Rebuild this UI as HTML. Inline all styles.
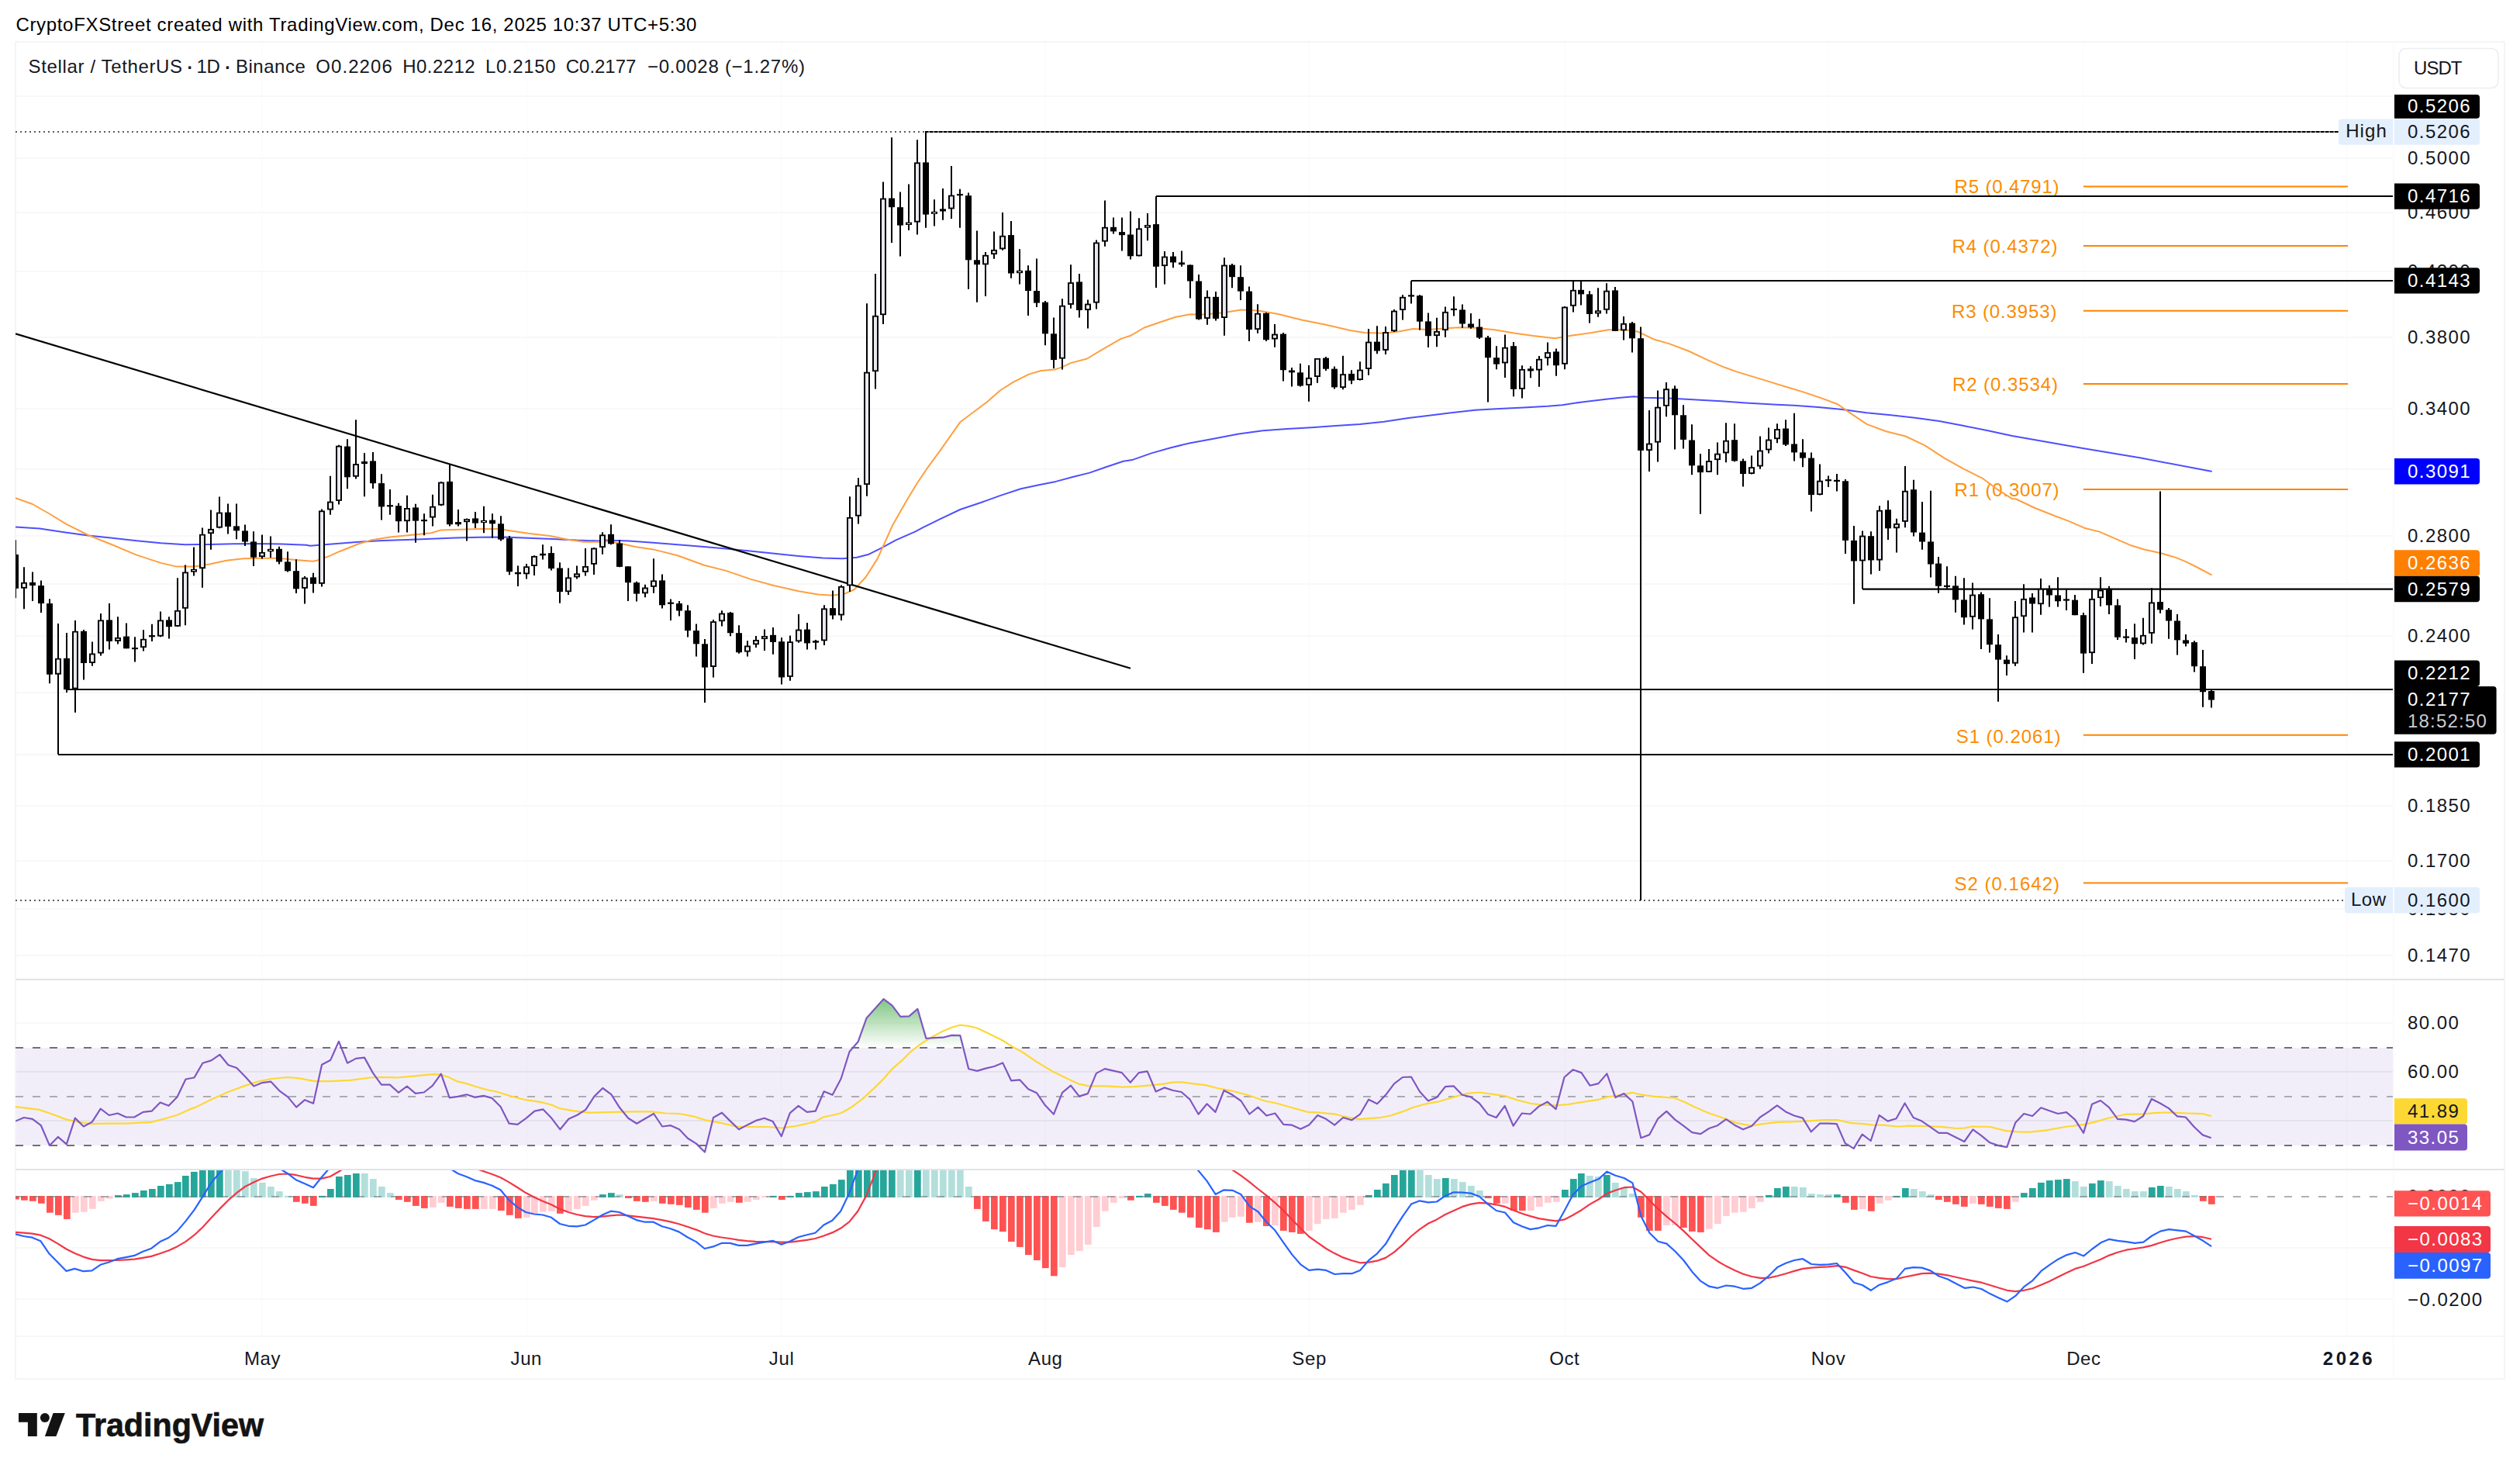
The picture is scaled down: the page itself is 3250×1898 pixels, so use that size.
<!DOCTYPE html>
<html><head><meta charset="utf-8"><title>XLMUSDT chart</title>
<style>html,body{margin:0;padding:0;background:#fff}svg{display:block}</style></head>
<body>
<svg width="3250" height="1898" viewBox="0 0 3250 1898" font-family='"Liberation Sans", sans-serif'>
<defs>
<clipPath id="cm"><rect x="20" y="54" width="3066" height="1209"/></clipPath>
<clipPath id="cr"><rect x="20" y="1264" width="3066" height="244"/></clipPath>
<clipPath id="cd"><rect x="20" y="1509" width="3066" height="214"/></clipPath>
<linearGradient id="gg" x1="0" y1="1263" x2="0" y2="1351" gradientUnits="userSpaceOnUse"><stop offset="0" stop-color="#4caf50" stop-opacity="1"/><stop offset="0.28" stop-color="#4caf50" stop-opacity="0.72"/><stop offset="1" stop-color="#4caf50" stop-opacity="0"/></linearGradient>
</defs>
<rect width="3250" height="1898" fill="#fff"/>
<g stroke="#f8f8f8" stroke-width="2" shape-rendering="crispEdges">
<line x1="338" y1="54" x2="338" y2="1723" stroke="#fcfcfc"/>
<line x1="679" y1="54" x2="679" y2="1723" stroke="#fcfcfc"/>
<line x1="1008" y1="54" x2="1008" y2="1723" stroke="#fcfcfc"/>
<line x1="1348" y1="54" x2="1348" y2="1723" stroke="#fcfcfc"/>
<line x1="1688" y1="54" x2="1688" y2="1723" stroke="#fcfcfc"/>
<line x1="2018" y1="54" x2="2018" y2="1723" stroke="#fcfcfc"/>
<line x1="2358" y1="54" x2="2358" y2="1723" stroke="#fcfcfc"/>
<line x1="2687" y1="54" x2="2687" y2="1723" stroke="#fcfcfc"/>
<line x1="3027" y1="54" x2="3027" y2="1723" stroke="#fcfcfc"/>
<line x1="20" y1="124.2" x2="3086" y2="124.2"/>
<line x1="20" y1="204.2" x2="3086" y2="204.2"/>
<line x1="20" y1="274.0" x2="3086" y2="274.0"/>
<line x1="20" y1="350.1" x2="3086" y2="350.1"/>
<line x1="20" y1="434.5" x2="3086" y2="434.5"/>
<line x1="20" y1="527.4" x2="3086" y2="527.4"/>
<line x1="20" y1="605.0" x2="3086" y2="605.0"/>
<line x1="20" y1="690.6" x2="3086" y2="690.6"/>
<line x1="20" y1="752.8" x2="3086" y2="752.8"/>
<line x1="20" y1="820.2" x2="3086" y2="820.2"/>
<line x1="20" y1="892.7" x2="3086" y2="892.7"/>
<line x1="20" y1="973.3" x2="3086" y2="973.3"/>
<line x1="20" y1="1039.0" x2="3086" y2="1039.0"/>
<line x1="20" y1="1110.1" x2="3086" y2="1110.1"/>
<line x1="20" y1="1171.5" x2="3086" y2="1171.5"/>
<line x1="20" y1="1231.6" x2="3086" y2="1231.6"/>
<line x1="20" y1="1319.2" x2="3086" y2="1319.2"/>
<line x1="20" y1="1381.7" x2="3086" y2="1381.7"/>
<line x1="20" y1="1445.0" x2="3086" y2="1445.0"/>
<line x1="20" y1="1609.0" x2="3086" y2="1609.0"/>
<line x1="20" y1="1675.4" x2="3086" y2="1675.4"/>
</g>
<rect x="20" y="1351" width="3066" height="126" fill="#7e57c2" fill-opacity="0.1"/>
<g stroke="#000" stroke-opacity="0.022" stroke-width="2"><line x1="20" y1="1381.7" x2="3086" y2="1381.7"/><line x1="20" y1="1445" x2="3086" y2="1445"/></g>
<g stroke="#f5f5f5" stroke-width="2" fill="none">
<rect x="20" y="54" width="3210" height="1724"/>
<line x1="3087" y1="54" x2="3087" y2="1778" stroke="#fbfbfb"/>
<line x1="20" y1="1723" x2="3230" y2="1723" stroke="#f7f7f7"/>
</g>
<g stroke="#e0e3eb" stroke-width="2"><line x1="20" y1="1263" x2="3230" y2="1263"/><line x1="20" y1="1508" x2="3230" y2="1508"/></g>
<g clip-path="url(#cm)">
<line x1="20" y1="170" x2="3016" y2="170" stroke="#5c5c5e" stroke-width="2" stroke-dasharray="2 4"/>
<line x1="1193" y1="170" x2="3016" y2="170" stroke="#8a8a8a" stroke-width="2"/>
<line x1="1193" y1="170" x2="3016" y2="170" stroke="#000" stroke-width="2" stroke-dasharray="4.4 1.6"/>
<line x1="20" y1="1161" x2="3024" y2="1161" stroke="#5c5c5e" stroke-width="2" stroke-dasharray="2 4"/>
<line x1="2687" y1="240.5" x2="3028" y2="240.5" stroke="#ff8400" stroke-width="2"/>
<line x1="2687" y1="317" x2="3028" y2="317" stroke="#ff8400" stroke-width="2"/>
<line x1="2687" y1="400.7" x2="3028" y2="400.7" stroke="#ff8400" stroke-width="2"/>
<line x1="2687" y1="495" x2="3028" y2="495" stroke="#ff8400" stroke-width="2"/>
<line x1="2687" y1="631" x2="3028" y2="631" stroke="#ff8400" stroke-width="2"/>
<line x1="2687" y1="947.7" x2="3028" y2="947.7" stroke="#ff8400" stroke-width="2"/>
<line x1="2687" y1="1138.5" x2="3028" y2="1138.5" stroke="#ff8400" stroke-width="2"/>
<text x="2520.6" y="248.6" font-size="24" fill="#fb8c00" textLength="135.0" lengthAdjust="spacing">R5 (0.4791)</text>
<text x="2517.5" y="325.8" font-size="24" fill="#fb8c00" textLength="135.9" lengthAdjust="spacing">R4 (0.4372)</text>
<text x="2517.0" y="409.6" font-size="24" fill="#fb8c00" textLength="135.5" lengthAdjust="spacing">R3 (0.3953)</text>
<text x="2518.0" y="503.9" font-size="24" fill="#fb8c00" textLength="136.0" lengthAdjust="spacing">R2 (0.3534)</text>
<text x="2520.6" y="639.9" font-size="24" fill="#fb8c00" textLength="135.0" lengthAdjust="spacing">R1 (0.3007)</text>
<text x="2522.8" y="958.3" font-size="24" fill="#fb8c00" textLength="134.7" lengthAdjust="spacing">S1 (0.2061)</text>
<text x="2520.6" y="1148.4" font-size="24" fill="#fb8c00" textLength="135.4" lengthAdjust="spacing">S2 (0.1642)</text>
<polyline points="20.0,679.4 51.2,681.6 82.5,686.2 113.8,690.6 145.0,693.8 176.2,697.2 207.5,700.3 238.8,702.2 270.0,701.9 301.2,701.2 332.5,700.9 363.8,701.6 395.0,702.8 400.0,703.8 431.2,701.2 462.5,698.8 493.8,696.9 525.0,695.9 556.2,694.7 587.5,693.4 618.8,692.8 650.0,692.5 681.2,693.8 712.5,695.0 743.8,696.6 775.0,697.5 780.0,696.6 811.2,697.5 842.5,699.7 873.8,702.2 905.0,704.7 936.2,707.5 967.5,710.6 998.8,713.8 1030.0,716.9 1061.2,719.4 1086.2,720.3 1105.0,718.8 1120.6,714.7 1136.2,706.9 1155.0,696.6 1180.0,685.6 1190.4,680.2 1212.2,669.3 1238.3,657.0 1264.3,648.3 1290.4,638.9 1316.5,630.2 1340.0,625.2 1361.7,620.9 1383.5,615.0 1405.2,609.6 1427.0,602.0 1448.7,594.8 1460.0,593.1 1485.0,584.4 1510.0,577.2 1535.0,571.2 1566.2,565.6 1597.5,559.4 1628.8,555.3 1660.0,553.1 1691.2,551.2 1722.5,549.1 1753.8,546.9 1785.0,543.8 1816.2,539.1 1841.2,535.9 1871.2,532.2 1902.5,528.8 1933.8,526.9 1965.0,525.6 1996.2,523.8 2015.0,522.2 2040.0,518.4 2071.2,514.7 2090.0,512.8 2107.2,511.2 2121.2,512.8 2152.5,513.4 2183.8,515.3 2215.0,516.9 2220.0,517.2 2251.2,519.4 2282.5,521.2 2313.8,522.8 2345.0,525.0 2376.2,528.1 2407.5,532.2 2438.8,535.3 2470.0,538.8 2501.2,543.1 2532.5,549.1 2563.8,555.3 2595.0,561.9 2686.2,578.1 2761.2,590.6 2851.9,607.8" fill="none" stroke="#4f4ffc" stroke-width="2.0" stroke-opacity="1" stroke-linejoin="round" stroke-linecap="round"/>
<polyline points="20.0,642.2 41.9,650.0 63.8,662.5 85.6,675.9 113.8,690.0 145.0,702.5 176.2,715.6 207.5,725.9 227.8,730.6 249.7,730.6 270.0,727.5 291.9,722.8 313.8,720.3 337.5,719.7 359.4,719.7 381.6,721.9 403.4,723.8 409.4,722.5 425.0,716.9 437.5,711.2 462.5,701.2 478.1,696.6 503.1,692.5 531.2,689.7 556.2,687.2 568.8,683.4 593.8,682.8 618.8,681.9 643.8,681.9 656.2,684.1 681.2,687.8 709.4,690.9 731.2,695.6 753.1,698.8 775.0,698.8 780.0,697.5 798.8,700.6 820.6,705.3 842.5,708.4 873.8,716.2 908.1,728.8 936.2,735.9 967.5,746.6 998.8,755.3 1030.0,762.2 1055.0,766.6 1073.8,767.8 1089.4,765.6 1101.9,760.0 1116.5,744.3 1131.7,720.4 1151.3,677.0 1168.7,646.5 1181.7,624.8 1194.8,605.2 1212.2,581.3 1238.3,544.3 1255.7,531.3 1273.0,518.3 1290.4,503.0 1307.8,492.2 1327.4,482.4 1342.6,478.0 1359.7,476.6 1369.7,473.4 1380.9,468.1 1401.9,462.5 1423.8,449.4 1445.6,436.9 1458.1,432.8 1475.6,422.5 1497.5,415.0 1516.2,408.8 1535.0,405.3 1553.8,405.6 1578.8,403.1 1600.6,399.4 1622.5,400.6 1647.5,404.7 1678.8,412.5 1710.0,418.8 1741.2,425.9 1760.0,429.1 1785.0,429.7 1803.8,427.5 1822.5,424.1 1841.2,425.0 1858.8,423.8 1880.6,422.2 1902.5,422.8 1927.5,425.3 1952.5,429.4 1977.5,433.1 2005.6,436.2 2027.5,432.5 2052.5,429.1 2074.4,425.3 2096.2,425.3 2111.9,427.5 2133.8,437.8 2152.5,443.1 2177.5,452.5 2202.5,464.4 2224.4,473.8 2240.0,479.4 2307.5,500.0 2326.2,505.6 2351.2,514.1 2370.0,521.2 2388.8,534.4 2407.5,546.9 2432.5,556.2 2457.5,562.5 2482.5,574.4 2507.5,590.6 2532.5,604.7 2557.5,617.2 2576.2,631.2 2595.0,643.1 2600.0,643.5 2624.4,655.0 2648.9,664.8 2668.5,672.1 2688.0,680.7 2707.6,685.6 2727.1,694.1 2746.7,702.7 2766.3,708.8 2785.8,713.0 2805.4,718.6 2820.0,724.7 2834.7,732.0 2851.8,741.1" fill="none" stroke="#ff9f40" stroke-width="2.0" stroke-opacity="1" stroke-linejoin="round" stroke-linecap="round"/>
<g stroke="#000" stroke-width="2.2" fill="none">
<line x1="20" y1="430.4" x2="1458" y2="861.8"/>
<line x1="1491" y1="253" x2="3086" y2="253"/>
<line x1="1820" y1="362" x2="3086" y2="362"/>
<line x1="2402" y1="759.7" x2="3086" y2="759.7"/>
<line x1="86" y1="889" x2="3086" y2="889"/>
<line x1="75" y1="973" x2="3086" y2="973"/>
</g>
<path d="M20 696.2V771.2M31 731.2V785.3M42 737.5V775.0M53 748.4V790.0M64 772.2V881.2M75 804.1V972.8M86 815.9V893.1M97 800.0V918.8M108 811.9V876.6M119 827.5V858.8M130 790.9V845.6M141 778.1V837.5M152 795.3V830.6M163 803.4V836.2M174 821.2V853.4M185 812.2V839.4M196 804.7V826.9M207 788.4V821.2M218 795.3V823.4M229 745.3V808.1M239 728.4V806.2M250 705.6V742.5M261 680.6V757.8M272 657.5V708.8M283 640.6V681.2M294 649.4V688.4M305 649.4V695.3M316 676.6V704.1M327 685.3V730.0M338 689.4V720.6M349 691.6V719.1M360 704.7V727.5M371 711.2V737.5M382 721.2V765.0M393 743.1V778.4M404 738.8V764.4M415 656.6V756.6M426 613.8V663.8M437 573.8V650.6M448 566.2V630.3M459 541.2V617.5M470 584.1V640.3M481 583.1V630.0M492 611.2V670.6M503 630.9V663.8M514 648.8V686.6M525 638.8V686.6M536 649.7V699.7M547 662.2V690.3M558 637.8V678.4M569 620.9V652.2M580 599.1V678.4M591 656.9V678.4M602 668.4V697.5M613 660.0V680.9M624 652.8V687.2M635 662.2V693.4M646 665.3V697.5M657 690.9V741.2M668 729.4V755.9M679 726.9V746.6M689 716.2V741.9M700 702.2V721.6M711 704.4V735.6M722 725.3V777.8M733 732.5V766.9M744 729.4V746.6M755 706.9V742.5M766 705.9V740.9M777 686.2V714.7M788 676.2V702.2M799 695.9V731.2M810 730.3V775.0M821 749.7V775.6M832 753.8V770.3M843 720.3V764.7M854 740.6V784.4M865 772.5V800.0M876 775.0V794.4M887 780.3V821.6M898 804.4V846.6M909 824.1V905.9M920 799.1V873.4M931 787.2V807.5M942 789.1V820.3M953 806.2V842.8M964 826.2V846.6M975 820.0V835.0M986 811.6V839.1M997 809.1V843.8M1008 821.9V882.5M1019 819.4V877.8M1030 791.9V828.8M1041 803.1V837.5M1052 825.0V837.5M1063 780.3V831.9M1074 761.6V798.4M1085 754.4V800.0M1096 640.3V763.1M1107 616.2V675.6M1118 391.3V639.7M1129 353.1V501.6M1139 234.4V418.1M1150 177.2V313.1M1161 247.5V330.6M1172 237.5V296.9M1183 180.3V302.5M1194 170.3V293.8M1205 257.2V291.6M1216 243.1V283.8M1227 214.1V281.9M1238 243.8V293.8M1249 248.4V372.8M1260 297.5V389.7M1271 325.0V381.9M1282 298.4V333.8M1293 274.1V322.8M1304 285.0V358.8M1315 321.2V366.6M1326 342.2V406.9M1337 333.4V395.9M1348 388.1V445.3M1359 409.4V475.0M1370 385.3V476.6M1381 341.2V397.8M1392 353.1V409.4M1403 386.6V423.4M1414 309.4V398.4M1425 258.4V317.8M1436 280.6V301.6M1447 280.6V323.4M1458 272.5V334.4M1469 281.2V330.6M1480 275.0V310.3M1491 253.1V370.9M1502 324.1V366.6M1513 325.0V345.3M1524 323.4V343.8M1535 341.2V384.4M1546 354.1V412.5M1557 374.4V418.8M1568 375.9V413.4M1579 332.2V432.8M1589 340.0V371.2M1600 342.2V386.9M1611 369.4V440.0M1622 392.2V429.7M1633 403.1V440.0M1644 418.1V447.8M1655 429.1V491.6M1666 474.1V498.4M1677 468.8V498.4M1688 470.9V517.8M1699 461.9V493.8M1710 460.0V478.1M1721 472.5V501.6M1732 458.8V502.2M1743 477.2V495.3M1754 466.2V490.6M1765 424.1V483.8M1776 420.3V456.2M1787 420.9V456.9M1798 399.1V428.1M1809 380.3V412.5M1820 361.9V391.6M1831 380.3V425.6M1842 403.4V448.1M1853 409.7V447.2M1864 395.6V434.7M1875 382.2V407.5M1886 392.5V422.8M1897 404.1V423.8M1908 411.2V436.9M1919 433.1V518.4M1930 446.2V476.2M1941 431.6V486.9M1952 440.9V511.2M1963 471.2V513.4M1974 472.2V487.2M1985 459.1V498.8M1996 441.6V471.2M2007 449.4V484.7M2018 395.0V476.2M2029 362.2V402.5M2039 362.2V393.4M2050 375.3V416.6M2061 371.2V408.8M2072 365.3V404.4M2083 370.0V426.9M2094 408.1V438.4M2105 415.0V454.4M2116 421.6V1161.0M2127 529.1V608.1M2138 503.4V595.6M2149 493.1V537.2M2160 497.2V579.4M2171 522.2V578.4M2182 547.2V612.2M2193 585.3V662.8M2204 579.1V609.1M2215 570.6V612.2M2226 545.3V596.2M2237 546.2V595.3M2248 591.6V627.5M2259 587.5V611.6M2270 562.5V604.7M2281 551.6V584.4M2292 546.2V571.2M2303 541.2V575.0M2314 532.8V594.4M2325 566.2V602.2M2336 583.4V659.4M2347 598.4V638.4M2358 613.4V628.1M2369 610.9V633.4M2380 618.1V714.1M2391 678.1V778.8M2402 684.4V759.4M2413 685.3V740.6M2424 652.2V735.9M2435 645.3V695.9M2446 668.8V712.5M2457 600.9V680.3M2468 618.8V691.6M2479 646.9V708.8M2490 632.8V744.4M2500 718.1V764.7M2511 730.3V759.4M2522 742.8V789.7M2533 745.3V805.6M2544 751.6V811.6M2555 763.4V836.9M2566 771.2V841.6M2577 818.1V904.7M2588 845.3V870.9M2599 775.0V858.8M2610 753.3V815.6M2621 765.0V815.6M2632 746.0V792.7M2643 754.8V782.6M2654 744.3V782.6M2665 760.6V787.0M2676 767.0V793.2M2687 790.0V867.7M2698 760.1V856.0M2709 744.3V781.7M2720 755.7V791.9M2731 772.4V824.9M2742 811.0V828.6M2753 804.2V849.9M2764 796.8V831.5M2775 758.2V829.8M2786 633.5V790.7M2797 783.9V823.7M2808 791.9V844.5M2819 818.1V833.5M2830 826.2V866.5M2841 837.9V911.7M2852 889.2V912.5" stroke="#000" stroke-width="2" fill="none"/>
<g fill="#000"><rect x="16" y="715.0" width="8" height="43.8"/><rect x="27" y="750.9" width="8" height="7.8"/><rect x="38" y="750.9" width="8" height="4.1"/><rect x="49" y="755.0" width="8" height="23.1"/><rect x="60" y="778.1" width="8" height="91.6"/><rect x="71" y="848.8" width="8" height="20.9"/><rect x="82" y="848.8" width="8" height="40.3"/><rect x="93" y="813.8" width="8" height="74.7"/><rect x="104" y="813.8" width="8" height="41.2"/><rect x="115" y="842.5" width="8" height="12.5"/><rect x="126" y="799.4" width="8" height="43.1"/><rect x="137" y="799.4" width="8" height="27.5"/><rect x="148" y="821.9" width="8" height="5.0"/><rect x="159" y="820.6" width="8" height="15.6"/><rect x="170" y="835.0" width="8" height="2.2"/><rect x="181" y="823.8" width="8" height="11.2"/><rect x="192" y="819.1" width="8" height="2.2"/><rect x="203" y="799.4" width="8" height="21.2"/><rect x="214" y="799.4" width="8" height="8.8"/><rect x="225" y="786.9" width="8" height="20.9"/><rect x="235" y="737.5" width="8" height="47.2"/><rect x="246" y="733.8" width="8" height="3.8"/><rect x="257" y="688.8" width="8" height="44.4"/><rect x="268" y="681.9" width="8" height="6.2"/><rect x="279" y="660.6" width="8" height="20.0"/><rect x="290" y="660.6" width="8" height="18.4"/><rect x="301" y="678.4" width="8" height="5.9"/><rect x="312" y="684.4" width="8" height="14.1"/><rect x="323" y="698.4" width="8" height="20.3"/><rect x="334" y="711.9" width="8" height="6.2"/><rect x="345" y="707.8" width="8" height="3.4"/><rect x="356" y="707.8" width="8" height="16.6"/><rect x="367" y="724.4" width="8" height="11.9"/><rect x="378" y="736.2" width="8" height="23.1"/><rect x="389" y="744.7" width="8" height="14.1"/><rect x="400" y="744.4" width="8" height="8.4"/><rect x="411" y="658.4" width="8" height="94.4"/><rect x="422" y="646.6" width="8" height="10.9"/><rect x="433" y="574.7" width="8" height="71.2"/><rect x="444" y="575.6" width="8" height="39.7"/><rect x="455" y="598.1" width="8" height="16.6"/><rect x="466" y="595.0" width="8" height="3.1"/><rect x="477" y="594.4" width="8" height="28.8"/><rect x="488" y="623.1" width="8" height="30.3"/><rect x="499" y="651.2" width="8" height="2.2"/><rect x="510" y="652.2" width="8" height="20.0"/><rect x="521" y="655.0" width="8" height="17.2"/><rect x="532" y="654.4" width="8" height="17.2"/><rect x="543" y="670.0" width="8" height="2.2"/><rect x="554" y="652.8" width="8" height="14.7"/><rect x="565" y="621.6" width="8" height="30.0"/><rect x="576" y="620.9" width="8" height="55.3"/><rect x="587" y="673.1" width="8" height="3.1"/><rect x="598" y="669.1" width="8" height="4.1"/><rect x="609" y="668.4" width="8" height="6.2"/><rect x="620" y="670.9" width="8" height="3.1"/><rect x="631" y="670.6" width="8" height="4.7"/><rect x="642" y="675.3" width="8" height="20.3"/><rect x="653" y="694.1" width="8" height="43.1"/><rect x="664" y="737.8" width="8" height="2.5"/><rect x="675" y="730.3" width="8" height="10.0"/><rect x="685" y="716.9" width="8" height="13.1"/><rect x="696" y="713.8" width="8" height="2.5"/><rect x="707" y="713.1" width="8" height="20.0"/><rect x="718" y="732.5" width="8" height="30.6"/><rect x="729" y="744.4" width="8" height="18.8"/><rect x="740" y="739.4" width="8" height="5.0"/><rect x="751" y="730.0" width="8" height="7.8"/><rect x="762" y="706.6" width="8" height="21.2"/><rect x="773" y="689.4" width="8" height="16.6"/><rect x="784" y="688.8" width="8" height="12.5"/><rect x="795" y="700.6" width="8" height="30.3"/><rect x="806" y="730.3" width="8" height="20.9"/><rect x="817" y="751.2" width="8" height="14.4"/><rect x="828" y="757.5" width="8" height="7.8"/><rect x="839" y="748.4" width="8" height="8.4"/><rect x="850" y="748.4" width="8" height="31.9"/><rect x="861" y="776.6" width="8" height="2.2"/><rect x="872" y="778.1" width="8" height="9.4"/><rect x="883" y="787.2" width="8" height="25.9"/><rect x="894" y="813.1" width="8" height="17.2"/><rect x="905" y="830.3" width="8" height="30.3"/><rect x="916" y="801.2" width="8" height="58.8"/><rect x="927" y="790.6" width="8" height="10.6"/><rect x="938" y="790.0" width="8" height="26.2"/><rect x="949" y="816.2" width="8" height="25.0"/><rect x="960" y="832.5" width="8" height="8.1"/><rect x="971" y="825.0" width="8" height="6.2"/><rect x="982" y="820.0" width="8" height="4.1"/><rect x="993" y="818.8" width="8" height="9.1"/><rect x="1004" y="827.2" width="8" height="46.2"/><rect x="1015" y="827.2" width="8" height="45.6"/><rect x="1026" y="811.6" width="8" height="15.6"/><rect x="1037" y="811.6" width="8" height="17.8"/><rect x="1048" y="826.2" width="8" height="2.5"/><rect x="1059" y="784.4" width="8" height="41.9"/><rect x="1070" y="784.1" width="8" height="9.4"/><rect x="1081" y="755.9" width="8" height="37.5"/><rect x="1092" y="666.9" width="8" height="88.4"/><rect x="1103" y="625.6" width="8" height="40.0"/><rect x="1114" y="479.7" width="8" height="145.3"/><rect x="1125" y="406.9" width="8" height="72.2"/><rect x="1135" y="255.6" width="8" height="150.6"/><rect x="1146" y="255.6" width="8" height="11.6"/><rect x="1157" y="267.2" width="8" height="23.4"/><rect x="1168" y="286.6" width="8" height="3.4"/><rect x="1179" y="209.4" width="8" height="77.2"/><rect x="1190" y="209.4" width="8" height="67.2"/><rect x="1201" y="272.8" width="8" height="3.1"/><rect x="1212" y="269.4" width="8" height="3.1"/><rect x="1223" y="251.6" width="8" height="17.8"/><rect x="1234" y="250.0" width="8" height="2.2"/><rect x="1245" y="252.2" width="8" height="83.1"/><rect x="1256" y="335.3" width="8" height="5.9"/><rect x="1267" y="328.8" width="8" height="12.5"/><rect x="1278" y="321.9" width="8" height="6.2"/><rect x="1289" y="303.8" width="8" height="17.5"/><rect x="1300" y="303.1" width="8" height="49.4"/><rect x="1311" y="348.8" width="8" height="3.4"/><rect x="1322" y="348.8" width="8" height="26.2"/><rect x="1333" y="375.0" width="8" height="15.6"/><rect x="1344" y="389.7" width="8" height="40.6"/><rect x="1355" y="430.3" width="8" height="33.8"/><rect x="1366" y="393.8" width="8" height="68.8"/><rect x="1377" y="364.1" width="8" height="28.8"/><rect x="1388" y="363.4" width="8" height="36.6"/><rect x="1399" y="391.6" width="8" height="8.4"/><rect x="1410" y="312.5" width="8" height="78.1"/><rect x="1421" y="292.8" width="8" height="18.8"/><rect x="1432" y="292.8" width="8" height="5.6"/><rect x="1443" y="299.1" width="8" height="4.1"/><rect x="1454" y="302.5" width="8" height="27.8"/><rect x="1465" y="294.4" width="8" height="35.9"/><rect x="1476" y="290.0" width="8" height="3.8"/><rect x="1487" y="289.1" width="8" height="54.7"/><rect x="1498" y="330.6" width="8" height="12.5"/><rect x="1509" y="330.6" width="8" height="7.8"/><rect x="1520" y="338.4" width="8" height="2.8"/><rect x="1531" y="341.6" width="8" height="20.9"/><rect x="1542" y="362.5" width="8" height="49.1"/><rect x="1553" y="382.8" width="8" height="28.1"/><rect x="1564" y="382.8" width="8" height="28.1"/><rect x="1575" y="341.6" width="8" height="68.4"/><rect x="1585" y="341.6" width="8" height="15.6"/><rect x="1596" y="357.2" width="8" height="18.4"/><rect x="1607" y="375.6" width="8" height="49.4"/><rect x="1618" y="403.8" width="8" height="21.2"/><rect x="1629" y="403.8" width="8" height="34.4"/><rect x="1640" y="430.6" width="8" height="6.9"/><rect x="1651" y="430.6" width="8" height="46.6"/><rect x="1662" y="477.5" width="8" height="2.8"/><rect x="1673" y="480.3" width="8" height="17.2"/><rect x="1684" y="486.9" width="8" height="10.0"/><rect x="1695" y="461.9" width="8" height="24.1"/><rect x="1706" y="461.6" width="8" height="14.1"/><rect x="1717" y="475.6" width="8" height="23.8"/><rect x="1728" y="482.2" width="8" height="17.8"/><rect x="1739" y="481.9" width="8" height="8.8"/><rect x="1750" y="476.6" width="8" height="13.4"/><rect x="1761" y="440.6" width="8" height="35.3"/><rect x="1772" y="440.6" width="8" height="11.9"/><rect x="1783" y="428.1" width="8" height="23.8"/><rect x="1794" y="400.6" width="8" height="26.6"/><rect x="1805" y="382.8" width="8" height="17.2"/><rect x="1816" y="380.3" width="8" height="2.2"/><rect x="1827" y="381.2" width="8" height="33.4"/><rect x="1838" y="414.4" width="8" height="18.8"/><rect x="1849" y="426.9" width="8" height="6.2"/><rect x="1860" y="401.9" width="8" height="24.1"/><rect x="1871" y="397.8" width="8" height="2.2"/><rect x="1882" y="399.4" width="8" height="18.1"/><rect x="1893" y="417.5" width="8" height="4.7"/><rect x="1904" y="421.6" width="8" height="13.8"/><rect x="1915" y="435.3" width="8" height="25.9"/><rect x="1926" y="461.2" width="8" height="8.4"/><rect x="1937" y="447.8" width="8" height="20.6"/><rect x="1948" y="446.2" width="8" height="55.6"/><rect x="1959" y="475.9" width="8" height="25.9"/><rect x="1970" y="475.3" width="8" height="3.1"/><rect x="1981" y="462.8" width="8" height="14.7"/><rect x="1992" y="454.1" width="8" height="7.8"/><rect x="2003" y="453.4" width="8" height="17.8"/><rect x="2014" y="395.6" width="8" height="74.1"/><rect x="2025" y="373.8" width="8" height="20.9"/><rect x="2035" y="373.8" width="8" height="5.6"/><rect x="2046" y="379.4" width="8" height="25.6"/><rect x="2057" y="400.3" width="8" height="4.1"/><rect x="2068" y="374.7" width="8" height="25.0"/><rect x="2079" y="374.4" width="8" height="52.5"/><rect x="2090" y="416.9" width="8" height="9.4"/><rect x="2101" y="416.6" width="8" height="19.7"/><rect x="2112" y="436.2" width="8" height="144.7"/><rect x="2123" y="571.6" width="8" height="9.4"/><rect x="2134" y="524.7" width="8" height="45.9"/><rect x="2145" y="501.2" width="8" height="22.5"/><rect x="2156" y="501.2" width="8" height="34.1"/><rect x="2167" y="535.3" width="8" height="31.6"/><rect x="2178" y="567.5" width="8" height="32.8"/><rect x="2189" y="600.3" width="8" height="8.8"/><rect x="2200" y="594.1" width="8" height="14.7"/><rect x="2211" y="584.7" width="8" height="8.4"/><rect x="2222" y="567.8" width="8" height="16.6"/><rect x="2233" y="567.2" width="8" height="27.2"/><rect x="2244" y="594.4" width="8" height="16.6"/><rect x="2255" y="602.2" width="8" height="8.8"/><rect x="2266" y="580.6" width="8" height="20.9"/><rect x="2277" y="566.6" width="8" height="13.8"/><rect x="2288" y="553.1" width="8" height="13.1"/><rect x="2299" y="552.5" width="8" height="20.9"/><rect x="2310" y="572.5" width="8" height="10.9"/><rect x="2321" y="583.4" width="8" height="7.2"/><rect x="2332" y="590.6" width="8" height="47.5"/><rect x="2343" y="619.7" width="8" height="18.4"/><rect x="2354" y="618.1" width="8" height="2.2"/><rect x="2365" y="618.8" width="8" height="2.2"/><rect x="2376" y="620.3" width="8" height="76.6"/><rect x="2387" y="696.9" width="8" height="26.6"/><rect x="2398" y="690.6" width="8" height="32.8"/><rect x="2409" y="691.2" width="8" height="31.2"/><rect x="2420" y="657.8" width="8" height="64.7"/><rect x="2431" y="657.2" width="8" height="24.1"/><rect x="2442" y="675.0" width="8" height="6.2"/><rect x="2453" y="632.8" width="8" height="40.0"/><rect x="2464" y="631.2" width="8" height="55.3"/><rect x="2475" y="686.6" width="8" height="11.9"/><rect x="2486" y="698.4" width="8" height="29.1"/><rect x="2496" y="726.6" width="8" height="29.1"/><rect x="2507" y="754.7" width="8" height="2.2"/><rect x="2518" y="755.3" width="8" height="18.1"/><rect x="2529" y="773.4" width="8" height="22.8"/><rect x="2540" y="766.6" width="8" height="29.1"/><rect x="2551" y="766.2" width="8" height="32.2"/><rect x="2562" y="798.4" width="8" height="32.8"/><rect x="2573" y="831.2" width="8" height="19.4"/><rect x="2584" y="850.6" width="8" height="5.6"/><rect x="2595" y="795.3" width="8" height="60.3"/><rect x="2606" y="771.9" width="8" height="23.2"/><rect x="2617" y="770.4" width="8" height="8.1"/><rect x="2628" y="758.9" width="8" height="20.3"/><rect x="2639" y="758.9" width="8" height="8.6"/><rect x="2650" y="767.5" width="8" height="7.8"/><rect x="2661" y="772.4" width="8" height="2.2"/><rect x="2672" y="773.6" width="8" height="19.6"/><rect x="2683" y="793.2" width="8" height="49.4"/><rect x="2694" y="771.9" width="8" height="70.2"/><rect x="2705" y="760.6" width="8" height="10.5"/><rect x="2716" y="758.9" width="8" height="21.5"/><rect x="2727" y="780.4" width="8" height="41.3"/><rect x="2738" y="820.5" width="8" height="2.2"/><rect x="2749" y="822.0" width="8" height="8.3"/><rect x="2760" y="818.8" width="8" height="11.5"/><rect x="2771" y="776.5" width="8" height="40.3"/><rect x="2782" y="776.0" width="8" height="10.3"/><rect x="2793" y="786.3" width="8" height="14.2"/><rect x="2804" y="800.5" width="8" height="24.9"/><rect x="2815" y="825.4" width="8" height="4.4"/><rect x="2826" y="828.1" width="8" height="31.1"/><rect x="2837" y="859.2" width="8" height="33.0"/><rect x="2848" y="891.0" width="8" height="11.5"/></g>
<g fill="#e8e9f0"><rect x="29" y="752.7" width="4" height="4.2"/><rect x="73" y="850.5" width="4" height="17.3"/><rect x="95" y="815.5" width="4" height="71.1"/><rect x="117" y="844.3" width="4" height="8.9"/><rect x="128" y="801.2" width="4" height="39.5"/><rect x="150" y="823.7" width="4" height="1.4"/><rect x="183" y="825.5" width="4" height="7.7"/><rect x="205" y="801.2" width="4" height="17.6"/><rect x="227" y="788.7" width="4" height="17.3"/><rect x="237" y="739.3" width="4" height="43.6"/><rect x="248" y="735.1" width="4" height="1.0"/><rect x="259" y="690.5" width="4" height="40.8"/><rect x="270" y="683.7" width="4" height="2.6"/><rect x="281" y="662.4" width="4" height="16.4"/><rect x="336" y="713.7" width="4" height="2.6"/><rect x="347" y="709.0" width="4" height="1.0"/><rect x="391" y="746.5" width="4" height="10.5"/><rect x="413" y="660.2" width="4" height="90.8"/><rect x="424" y="648.4" width="4" height="7.3"/><rect x="435" y="576.5" width="4" height="67.7"/><rect x="457" y="599.9" width="4" height="13.0"/><rect x="523" y="656.8" width="4" height="13.6"/><rect x="556" y="654.6" width="4" height="11.1"/><rect x="567" y="623.4" width="4" height="26.4"/><rect x="600" y="670.6" width="4" height="1.0"/><rect x="622" y="672.0" width="4" height="1.0"/><rect x="677" y="732.1" width="4" height="6.4"/><rect x="687" y="718.7" width="4" height="9.5"/><rect x="731" y="746.2" width="4" height="15.2"/><rect x="742" y="741.2" width="4" height="1.4"/><rect x="753" y="731.8" width="4" height="4.2"/><rect x="764" y="708.4" width="4" height="17.6"/><rect x="775" y="691.2" width="4" height="13.0"/><rect x="830" y="759.3" width="4" height="4.2"/><rect x="841" y="750.2" width="4" height="4.8"/><rect x="918" y="803.0" width="4" height="55.1"/><rect x="929" y="792.4" width="4" height="7.0"/><rect x="962" y="834.3" width="4" height="4.5"/><rect x="973" y="826.8" width="4" height="2.6"/><rect x="984" y="821.5" width="4" height="1.0"/><rect x="1017" y="829.0" width="4" height="42.0"/><rect x="1028" y="813.4" width="4" height="12.0"/><rect x="1061" y="786.2" width="4" height="38.3"/><rect x="1083" y="757.7" width="4" height="33.9"/><rect x="1094" y="668.7" width="4" height="84.8"/><rect x="1105" y="627.4" width="4" height="36.4"/><rect x="1116" y="481.5" width="4" height="141.7"/><rect x="1127" y="408.7" width="4" height="68.6"/><rect x="1137" y="257.4" width="4" height="147.0"/><rect x="1170" y="287.8" width="4" height="1.0"/><rect x="1181" y="211.2" width="4" height="73.6"/><rect x="1203" y="273.9" width="4" height="1.0"/><rect x="1225" y="253.4" width="4" height="14.2"/><rect x="1269" y="330.6" width="4" height="8.9"/><rect x="1280" y="323.7" width="4" height="2.6"/><rect x="1291" y="305.6" width="4" height="13.9"/><rect x="1313" y="350.0" width="4" height="1.0"/><rect x="1368" y="395.6" width="4" height="65.2"/><rect x="1379" y="365.9" width="4" height="25.1"/><rect x="1401" y="393.4" width="4" height="4.8"/><rect x="1412" y="314.3" width="4" height="74.5"/><rect x="1423" y="294.6" width="4" height="15.2"/><rect x="1467" y="296.2" width="4" height="32.3"/><rect x="1478" y="291.4" width="4" height="1.0"/><rect x="1500" y="332.4" width="4" height="8.9"/><rect x="1555" y="384.6" width="4" height="24.5"/><rect x="1577" y="343.4" width="4" height="64.8"/><rect x="1620" y="405.6" width="4" height="17.6"/><rect x="1642" y="432.4" width="4" height="3.3"/><rect x="1686" y="488.7" width="4" height="6.4"/><rect x="1697" y="463.7" width="4" height="20.5"/><rect x="1730" y="484.0" width="4" height="14.2"/><rect x="1752" y="478.4" width="4" height="9.8"/><rect x="1763" y="442.4" width="4" height="31.7"/><rect x="1785" y="429.9" width="4" height="20.1"/><rect x="1796" y="402.4" width="4" height="23.0"/><rect x="1807" y="384.6" width="4" height="13.6"/><rect x="1851" y="428.7" width="4" height="2.6"/><rect x="1862" y="403.7" width="4" height="20.5"/><rect x="1939" y="449.6" width="4" height="17.0"/><rect x="1961" y="477.7" width="4" height="22.3"/><rect x="1983" y="464.6" width="4" height="11.1"/><rect x="1994" y="455.9" width="4" height="4.2"/><rect x="2016" y="397.4" width="4" height="70.5"/><rect x="2027" y="375.6" width="4" height="17.3"/><rect x="2059" y="401.8" width="4" height="1.0"/><rect x="2070" y="376.5" width="4" height="21.4"/><rect x="2092" y="418.7" width="4" height="5.8"/><rect x="2125" y="573.4" width="4" height="5.8"/><rect x="2136" y="526.5" width="4" height="42.3"/><rect x="2147" y="503.1" width="4" height="18.9"/><rect x="2202" y="595.9" width="4" height="11.1"/><rect x="2213" y="586.5" width="4" height="4.8"/><rect x="2224" y="569.6" width="4" height="13.0"/><rect x="2257" y="604.0" width="4" height="5.2"/><rect x="2268" y="582.4" width="4" height="17.3"/><rect x="2279" y="568.4" width="4" height="10.2"/><rect x="2290" y="554.9" width="4" height="9.5"/><rect x="2345" y="621.5" width="4" height="14.8"/><rect x="2400" y="692.4" width="4" height="29.2"/><rect x="2422" y="659.6" width="4" height="61.1"/><rect x="2444" y="676.8" width="4" height="2.6"/><rect x="2455" y="634.6" width="4" height="36.4"/><rect x="2542" y="768.4" width="4" height="25.5"/><rect x="2597" y="797.1" width="4" height="56.7"/><rect x="2608" y="773.7" width="4" height="19.6"/><rect x="2630" y="760.7" width="4" height="16.7"/><rect x="2696" y="773.7" width="4" height="66.6"/><rect x="2707" y="762.4" width="4" height="6.9"/><rect x="2762" y="820.6" width="4" height="7.9"/><rect x="2773" y="778.3" width="4" height="36.7"/></g>
</g>
<g clip-path="url(#cr)">
<polygon points="1099.9,1351.0 1106.6,1343.3 1117.5,1312.8 1128.5,1300.6 1139.5,1288.2 1150.5,1296.3 1161.4,1310.8 1172.4,1310.3 1183.4,1300.9 1194.4,1339.0 1205.3,1338.2 1216.3,1337.7 1227.3,1334.9 1238.3,1335.1 1242.3,1351.0" fill="url(#gg)"/>
<line x1="20" y1="1351" x2="3086" y2="1351" stroke="#6d6f7a" stroke-width="2" stroke-dasharray="10 12"/>
<line x1="20" y1="1414" x2="3086" y2="1414" stroke="#a9abb3" stroke-width="2" stroke-dasharray="10 12"/>
<line x1="20" y1="1477" x2="3086" y2="1477" stroke="#6d6f7a" stroke-width="2" stroke-dasharray="10 12"/>
<polyline points="20.0,1427.1 35.2,1428.9 50.5,1430.9 65.7,1436.0 86.0,1443.6 101.3,1446.6 116.5,1449.2 139.4,1448.7 162.2,1448.7 195.2,1446.9 213.0,1442.3 228.3,1437.7 243.5,1430.9 253.7,1427.1 274.0,1416.9 294.3,1408.0 314.6,1400.4 332.4,1394.6 350.2,1391.0 370.5,1389.0 385.7,1390.3 406.0,1394.1 426.3,1394.1 451.7,1392.8 477.1,1389.5 492.4,1389.0 512.7,1389.5 538.1,1387.2 558.4,1385.2 568.6,1385.7 578.7,1389.0 588.9,1394.1 601.6,1397.1 614.3,1401.2 629.5,1405.5 640.0,1407.5 657.8,1413.1 678.1,1418.2 698.4,1421.2 711.1,1424.5 721.3,1429.1 741.6,1432.7 759.4,1434.7 782.2,1434.2 812.7,1433.4 840.6,1433.4 858.4,1435.5 876.2,1436.0 894.0,1439.3 909.2,1444.1 929.5,1447.9 949.8,1452.5 970.2,1453.0 990.5,1453.0 1008.3,1454.5 1026.0,1452.0 1041.3,1448.7 1051.4,1446.1 1061.6,1440.5 1074.3,1437.7 1084.4,1435.2 1097.1,1428.3 1112.4,1416.9 1130.2,1400.4 1140.3,1390.3 1150.5,1378.3 1163.2,1367.4 1173.3,1357.2 1186.0,1347.1 1198.7,1339.0 1214.0,1330.6 1226.7,1325.0 1238.1,1321.7 1249.5,1323.0 1260.0,1325.5 1277.8,1333.9 1293.0,1341.5 1305.7,1349.6 1318.4,1356.5 1336.2,1368.7 1356.5,1380.9 1374.3,1389.7 1392.1,1397.9 1404.8,1400.4 1425.1,1400.4 1447.9,1401.7 1463.2,1401.2 1481.0,1399.7 1498.7,1397.9 1514.0,1395.3 1524.1,1395.3 1539.4,1397.4 1554.6,1399.1 1569.8,1403.0 1587.6,1406.3 1610.5,1412.3 1630.8,1419.5 1646.0,1422.5 1666.3,1428.3 1686.7,1433.9 1701.9,1434.7 1722.2,1436.7 1737.5,1440.5 1752.7,1443.1 1767.9,1441.8 1780.6,1441.0 1793.3,1438.5 1808.6,1433.4 1821.3,1428.3 1839.0,1423.3 1854.3,1420.7 1869.5,1416.2 1880.0,1413.1 1892.7,1409.8 1907.9,1408.5 1923.2,1410.6 1941.0,1413.1 1956.2,1418.2 1974.0,1422.8 1989.2,1424.5 2007.0,1425.3 2022.2,1424.0 2042.5,1420.7 2060.3,1418.2 2073.0,1414.4 2090.8,1411.8 2104.8,1408.8 2116.2,1411.3 2134.0,1413.9 2159.4,1415.7 2172.1,1420.7 2184.8,1427.1 2202.5,1434.7 2222.9,1441.8 2240.6,1448.2 2258.4,1451.7 2273.7,1449.2 2291.4,1446.9 2311.7,1446.4 2332.1,1445.4 2352.4,1444.1 2370.2,1444.1 2387.9,1448.2 2403.2,1449.2 2413.3,1450.4 2428.6,1450.7 2446.3,1452.5 2451.4,1452.5 2460.0,1451.7 2485.4,1452.0 2505.7,1453.2 2523.5,1455.0 2533.7,1454.5 2543.8,1452.5 2566.7,1453.0 2587.0,1458.1 2602.2,1459.3 2617.5,1459.6 2637.8,1457.6 2663.2,1453.0 2688.6,1449.9 2703.8,1446.1 2719.0,1441.8 2741.9,1436.7 2762.2,1436.7 2777.5,1435.2 2790.2,1434.7 2802.9,1434.7 2820.6,1435.5 2841.0,1436.2 2852.1,1439.3" fill="none" stroke="#fdd835" stroke-width="2.2" stroke-linejoin="round"/>
<polyline points="20.0,1445.6 30.9,1441.0 41.9,1442.8 52.9,1451.2 63.9,1476.9 74.8,1465.9 85.8,1475.3 96.8,1441.6 107.8,1452.5 118.8,1446.6 129.7,1429.6 140.7,1438.0 151.7,1435.5 162.7,1440.5 173.6,1440.3 184.6,1433.9 195.6,1432.7 206.6,1421.5 217.5,1425.8 228.5,1414.4 239.5,1391.5 250.5,1389.5 261.4,1370.7 272.4,1367.4 283.4,1359.8 294.4,1373.2 305.3,1377.0 316.3,1388.2 327.3,1400.4 338.3,1396.1 349.2,1394.6 360.2,1406.3 371.2,1414.4 382.2,1427.6 393.1,1418.2 404.1,1422.8 415.1,1372.7 426.1,1367.1 437.0,1342.8 448.0,1370.7 459.0,1364.9 470.0,1363.6 480.9,1383.4 491.9,1398.6 502.9,1398.6 513.9,1408.8 524.9,1400.7 535.8,1409.8 546.8,1408.5 557.8,1399.9 568.8,1384.7 579.7,1415.4 590.7,1413.9 601.7,1411.3 612.7,1414.9 623.6,1412.9 634.6,1415.9 645.6,1427.1 656.6,1448.7 667.5,1449.9 678.5,1441.8 689.5,1432.7 700.5,1430.4 711.4,1441.8 722.4,1456.3 733.4,1442.8 744.4,1437.7 755.3,1430.9 766.3,1413.9 777.3,1403.0 788.3,1411.1 799.2,1428.3 810.2,1441.8 821.2,1448.7 832.2,1442.3 843.1,1436.0 854.1,1452.5 865.1,1451.2 876.1,1456.3 887.0,1467.7 898.0,1474.6 909.0,1485.5 920.0,1441.0 931.0,1434.7 941.9,1445.6 952.9,1456.3 963.9,1450.4 974.9,1444.9 985.8,1441.8 996.8,1446.1 1007.8,1465.2 1018.8,1435.2 1029.7,1425.8 1040.7,1433.9 1051.7,1432.7 1062.7,1407.3 1073.6,1411.8 1084.6,1391.0 1095.6,1356.0 1106.6,1343.3 1117.5,1312.8 1128.5,1300.6 1139.5,1288.2 1150.5,1296.3 1161.4,1310.8 1172.4,1310.3 1183.4,1300.9 1194.4,1339.0 1205.3,1338.2 1216.3,1337.7 1227.3,1334.9 1238.3,1335.1 1249.2,1378.3 1260.2,1380.9 1271.2,1377.6 1282.2,1375.0 1293.2,1370.4 1304.1,1393.3 1315.1,1392.3 1326.1,1404.2 1337.1,1409.3 1348.0,1425.3 1359.0,1436.7 1370.0,1408.8 1381.0,1399.7 1391.9,1413.6 1402.9,1410.1 1413.9,1383.9 1424.9,1378.1 1435.8,1380.6 1446.8,1383.1 1457.8,1395.8 1468.8,1383.1 1479.7,1381.4 1490.7,1407.5 1501.7,1402.4 1512.7,1406.0 1523.6,1408.0 1534.6,1417.7 1545.6,1436.7 1556.6,1423.3 1567.5,1433.9 1578.5,1406.0 1589.5,1411.8 1600.5,1419.5 1611.4,1436.5 1622.4,1427.6 1633.4,1438.5 1644.4,1435.5 1655.3,1449.9 1666.3,1450.7 1677.3,1455.8 1688.3,1450.4 1699.3,1438.0 1710.2,1442.8 1721.2,1450.7 1732.2,1441.0 1743.2,1444.3 1754.1,1436.7 1765.1,1417.7 1776.1,1423.3 1787.1,1411.8 1798.0,1397.4 1809.0,1389.0 1820.0,1388.5 1831.0,1407.5 1841.9,1419.5 1852.9,1415.1 1863.9,1401.2 1874.9,1400.4 1885.8,1411.8 1896.8,1414.4 1907.8,1422.5 1918.8,1436.7 1929.7,1441.0 1940.7,1425.8 1951.7,1451.7 1962.7,1435.5 1973.6,1436.5 1984.6,1426.6 1995.6,1420.7 2006.6,1430.1 2017.5,1389.0 2028.5,1379.3 2039.5,1383.1 2050.5,1399.7 2061.4,1397.1 2072.4,1384.4 2083.4,1415.1 2094.4,1410.1 2105.4,1420.2 2116.3,1467.2 2127.3,1463.1 2138.3,1442.3 2149.3,1432.9 2160.2,1443.6 2171.2,1451.7 2182.2,1460.1 2193.2,1462.1 2204.1,1455.0 2215.1,1451.2 2226.1,1443.1 2237.1,1450.7 2248.0,1456.3 2259.0,1452.0 2270.0,1440.5 2281.0,1433.4 2291.9,1425.3 2302.9,1433.4 2313.9,1438.5 2324.9,1441.6 2335.8,1459.3 2346.8,1448.7 2357.8,1448.7 2368.8,1449.2 2379.7,1474.1 2390.7,1480.9 2401.7,1462.6 2412.7,1471.0 2423.6,1438.0 2434.6,1445.6 2445.6,1442.3 2456.6,1422.5 2467.6,1441.0 2478.5,1445.6 2489.5,1453.2 2500.5,1460.9 2511.5,1460.9 2522.4,1466.4 2533.4,1472.0 2544.4,1456.3 2555.4,1464.4 2566.3,1473.3 2577.3,1477.1 2588.3,1479.1 2599.3,1447.4 2610.2,1436.0 2621.2,1439.0 2632.2,1428.3 2643.2,1432.2 2654.1,1436.0 2665.1,1434.2 2676.1,1443.6 2687.1,1460.9 2698.0,1423.8 2709.0,1419.0 2720.0,1427.8 2731.0,1442.8 2741.9,1443.6 2752.9,1446.1 2763.9,1439.3 2774.9,1416.9 2785.8,1422.5 2796.8,1428.9 2807.8,1439.3 2818.8,1440.5 2829.7,1453.0 2840.7,1463.4 2851.7,1467.2" fill="none" stroke="#7e57c2" stroke-width="2.2" stroke-linejoin="round"/>
</g>
<g clip-path="url(#cd)">
<g fill="#26a69a"><rect x="148" y="1541.1" width="8.7" height="2.9"/><rect x="159" y="1540.1" width="8.7" height="3.9"/><rect x="170" y="1538.1" width="8.7" height="5.9"/><rect x="181" y="1535.0" width="8.7" height="9.0"/><rect x="192" y="1533.0" width="8.7" height="11.0"/><rect x="203" y="1529.0" width="8.7" height="15.0"/><rect x="214" y="1526.9" width="8.7" height="17.1"/><rect x="225" y="1524.1" width="8.7" height="19.9"/><rect x="235" y="1516.0" width="8.7" height="28.0"/><rect x="246" y="1510.9" width="8.7" height="33.1"/><rect x="257" y="1505.1" width="8.7" height="38.9"/><rect x="268" y="1505.1" width="8.7" height="38.9"/><rect x="279" y="1505.1" width="8.7" height="38.9"/><rect x="411" y="1541.9" width="8.7" height="2.1"/><rect x="422" y="1533.0" width="8.7" height="11.0"/><rect x="433" y="1517.0" width="8.7" height="27.0"/><rect x="444" y="1515.0" width="8.7" height="29.0"/><rect x="455" y="1513.0" width="8.7" height="31.0"/><rect x="773" y="1540.1" width="8.7" height="3.9"/><rect x="784" y="1538.1" width="8.7" height="5.9"/><rect x="993" y="1541.9" width="8.7" height="2.1"/><rect x="1015" y="1541.9" width="8.7" height="2.1"/><rect x="1026" y="1538.1" width="8.7" height="5.9"/><rect x="1037" y="1537.1" width="8.7" height="6.9"/><rect x="1048" y="1536.1" width="8.7" height="7.9"/><rect x="1059" y="1530.0" width="8.7" height="14.0"/><rect x="1070" y="1526.9" width="8.7" height="17.1"/><rect x="1081" y="1521.1" width="8.7" height="22.9"/><rect x="1092" y="1505.1" width="8.7" height="38.9"/><rect x="1103" y="1505.1" width="8.7" height="38.9"/><rect x="1114" y="1505.1" width="8.7" height="38.9"/><rect x="1125" y="1505.1" width="8.7" height="38.9"/><rect x="1135" y="1505.1" width="8.7" height="38.9"/><rect x="1146" y="1505.1" width="8.7" height="38.9"/><rect x="1179" y="1505.1" width="8.7" height="38.9"/><rect x="1465" y="1541.9" width="8.7" height="2.1"/><rect x="1476" y="1539.1" width="8.7" height="4.9"/><rect x="1761" y="1540.9" width="8.7" height="3.1"/><rect x="1772" y="1534.0" width="8.7" height="10.0"/><rect x="1783" y="1525.9" width="8.7" height="18.1"/><rect x="1794" y="1515.0" width="8.7" height="29.0"/><rect x="1805" y="1505.1" width="8.7" height="38.9"/><rect x="1816" y="1505.1" width="8.7" height="38.9"/><rect x="1860" y="1519.0" width="8.7" height="25.0"/><rect x="2014" y="1534.0" width="8.7" height="10.0"/><rect x="2025" y="1520.1" width="8.7" height="23.9"/><rect x="2035" y="1513.0" width="8.7" height="31.0"/><rect x="2068" y="1515.0" width="8.7" height="29.0"/><rect x="2277" y="1540.9" width="8.7" height="3.1"/><rect x="2288" y="1532.0" width="8.7" height="12.0"/><rect x="2299" y="1530.0" width="8.7" height="14.0"/><rect x="2365" y="1540.1" width="8.7" height="3.9"/><rect x="2442" y="1541.9" width="8.7" height="2.1"/><rect x="2453" y="1532.0" width="8.7" height="12.0"/><rect x="2606" y="1538.1" width="8.7" height="5.9"/><rect x="2617" y="1532.0" width="8.7" height="12.0"/><rect x="2628" y="1524.9" width="8.7" height="19.1"/><rect x="2639" y="1522.1" width="8.7" height="21.9"/><rect x="2650" y="1521.1" width="8.7" height="22.9"/><rect x="2661" y="1520.1" width="8.7" height="23.9"/><rect x="2694" y="1525.9" width="8.7" height="18.1"/><rect x="2705" y="1522.1" width="8.7" height="21.9"/><rect x="2771" y="1531.0" width="8.7" height="13.0"/><rect x="2782" y="1529.0" width="8.7" height="15.0"/></g>
<g fill="#b2dfdb"><rect x="290" y="1505.1" width="8.7" height="38.9"/><rect x="301" y="1505.1" width="8.7" height="38.9"/><rect x="312" y="1510.2" width="8.7" height="33.8"/><rect x="323" y="1519.0" width="8.7" height="25.0"/><rect x="334" y="1524.9" width="8.7" height="19.1"/><rect x="345" y="1530.0" width="8.7" height="14.0"/><rect x="356" y="1536.1" width="8.7" height="7.9"/><rect x="367" y="1541.9" width="8.7" height="2.1"/><rect x="466" y="1513.0" width="8.7" height="31.0"/><rect x="477" y="1520.1" width="8.7" height="23.9"/><rect x="488" y="1530.0" width="8.7" height="14.0"/><rect x="499" y="1538.1" width="8.7" height="5.9"/><rect x="795" y="1540.1" width="8.7" height="3.9"/><rect x="1157" y="1505.1" width="8.7" height="38.9"/><rect x="1168" y="1505.1" width="8.7" height="38.9"/><rect x="1190" y="1505.1" width="8.7" height="38.9"/><rect x="1201" y="1505.1" width="8.7" height="38.9"/><rect x="1212" y="1505.1" width="8.7" height="38.9"/><rect x="1223" y="1505.1" width="8.7" height="38.9"/><rect x="1234" y="1505.1" width="8.7" height="38.9"/><rect x="1245" y="1530.0" width="8.7" height="14.0"/><rect x="1827" y="1505.1" width="8.7" height="38.9"/><rect x="1838" y="1515.0" width="8.7" height="29.0"/><rect x="1849" y="1520.1" width="8.7" height="23.9"/><rect x="1871" y="1520.1" width="8.7" height="23.9"/><rect x="1882" y="1524.1" width="8.7" height="19.9"/><rect x="1893" y="1529.0" width="8.7" height="15.0"/><rect x="1904" y="1535.0" width="8.7" height="9.0"/><rect x="2046" y="1516.0" width="8.7" height="28.0"/><rect x="2057" y="1517.0" width="8.7" height="27.0"/><rect x="2079" y="1524.9" width="8.7" height="19.1"/><rect x="2090" y="1531.0" width="8.7" height="13.0"/><rect x="2101" y="1539.1" width="8.7" height="4.9"/><rect x="2310" y="1530.0" width="8.7" height="14.0"/><rect x="2321" y="1531.0" width="8.7" height="13.0"/><rect x="2332" y="1539.1" width="8.7" height="4.9"/><rect x="2343" y="1540.1" width="8.7" height="3.9"/><rect x="2354" y="1540.1" width="8.7" height="3.9"/><rect x="2464" y="1533.0" width="8.7" height="11.0"/><rect x="2475" y="1536.1" width="8.7" height="7.9"/><rect x="2486" y="1540.1" width="8.7" height="3.9"/><rect x="2672" y="1523.1" width="8.7" height="20.9"/><rect x="2683" y="1530.0" width="8.7" height="14.0"/><rect x="2716" y="1523.1" width="8.7" height="20.9"/><rect x="2727" y="1529.0" width="8.7" height="15.0"/><rect x="2738" y="1533.0" width="8.7" height="11.0"/><rect x="2749" y="1536.1" width="8.7" height="7.9"/><rect x="2760" y="1536.1" width="8.7" height="7.9"/><rect x="2793" y="1530.0" width="8.7" height="14.0"/><rect x="2804" y="1533.0" width="8.7" height="11.0"/><rect x="2815" y="1536.1" width="8.7" height="7.9"/><rect x="2826" y="1540.9" width="8.7" height="3.1"/></g>
<g fill="#ff5252"><rect x="16" y="1542.0" width="8.7" height="4.5"/><rect x="27" y="1542.0" width="8.7" height="5.7"/><rect x="38" y="1542.0" width="8.7" height="6.8"/><rect x="49" y="1542.0" width="8.7" height="9.8"/><rect x="60" y="1542.0" width="8.7" height="21.7"/><rect x="71" y="1542.0" width="8.7" height="24.8"/><rect x="82" y="1542.0" width="8.7" height="29.9"/><rect x="378" y="1542.0" width="8.7" height="7.8"/><rect x="389" y="1542.0" width="8.7" height="9.8"/><rect x="400" y="1542.0" width="8.7" height="12.9"/><rect x="510" y="1542.0" width="8.7" height="5.0"/><rect x="521" y="1542.0" width="8.7" height="7.8"/><rect x="532" y="1542.0" width="8.7" height="12.9"/><rect x="543" y="1542.0" width="8.7" height="15.9"/><rect x="576" y="1542.0" width="8.7" height="13.9"/><rect x="587" y="1542.0" width="8.7" height="15.9"/><rect x="598" y="1542.0" width="8.7" height="16.9"/><rect x="609" y="1542.0" width="8.7" height="16.9"/><rect x="642" y="1542.0" width="8.7" height="19.0"/><rect x="653" y="1542.0" width="8.7" height="24.8"/><rect x="664" y="1542.0" width="8.7" height="28.9"/><rect x="718" y="1542.0" width="8.7" height="22.8"/><rect x="806" y="1542.0" width="8.7" height="3.0"/><rect x="817" y="1542.0" width="8.7" height="6.8"/><rect x="828" y="1542.0" width="8.7" height="7.8"/><rect x="850" y="1542.0" width="8.7" height="9.8"/><rect x="861" y="1542.0" width="8.7" height="10.8"/><rect x="872" y="1542.0" width="8.7" height="11.8"/><rect x="883" y="1542.0" width="8.7" height="14.9"/><rect x="894" y="1542.0" width="8.7" height="17.9"/><rect x="905" y="1542.0" width="8.7" height="21.7"/><rect x="949" y="1542.0" width="8.7" height="8.8"/><rect x="1004" y="1542.0" width="8.7" height="5.0"/><rect x="1256" y="1542.0" width="8.7" height="16.9"/><rect x="1267" y="1542.0" width="8.7" height="32.9"/><rect x="1278" y="1542.0" width="8.7" height="43.1"/><rect x="1289" y="1542.0" width="8.7" height="46.1"/><rect x="1300" y="1542.0" width="8.7" height="59.1"/><rect x="1311" y="1542.0" width="8.7" height="65.9"/><rect x="1322" y="1542.0" width="8.7" height="76.1"/><rect x="1333" y="1542.0" width="8.7" height="83.0"/><rect x="1344" y="1542.0" width="8.7" height="93.1"/><rect x="1355" y="1542.0" width="8.7" height="103.3"/><rect x="1454" y="1542.0" width="8.7" height="5.7"/><rect x="1487" y="1542.0" width="8.7" height="8.8"/><rect x="1498" y="1542.0" width="8.7" height="12.9"/><rect x="1509" y="1542.0" width="8.7" height="17.9"/><rect x="1520" y="1542.0" width="8.7" height="21.7"/><rect x="1531" y="1542.0" width="8.7" height="27.8"/><rect x="1542" y="1542.0" width="8.7" height="41.0"/><rect x="1553" y="1542.0" width="8.7" height="43.1"/><rect x="1564" y="1542.0" width="8.7" height="46.9"/><rect x="1607" y="1542.0" width="8.7" height="34.7"/><rect x="1629" y="1542.0" width="8.7" height="39.0"/><rect x="1651" y="1542.0" width="8.7" height="44.9"/><rect x="1662" y="1542.0" width="8.7" height="46.9"/><rect x="1673" y="1542.0" width="8.7" height="48.9"/><rect x="1915" y="1542.0" width="8.7" height="3.0"/><rect x="1926" y="1542.0" width="8.7" height="9.8"/><rect x="1948" y="1542.0" width="8.7" height="19.0"/><rect x="1959" y="1542.0" width="8.7" height="19.0"/><rect x="2112" y="1542.0" width="8.7" height="27.8"/><rect x="2123" y="1542.0" width="8.7" height="44.9"/><rect x="2134" y="1542.0" width="8.7" height="44.9"/><rect x="2167" y="1542.0" width="8.7" height="41.0"/><rect x="2178" y="1542.0" width="8.7" height="45.9"/><rect x="2189" y="1542.0" width="8.7" height="46.9"/><rect x="2376" y="1542.0" width="8.7" height="8.8"/><rect x="2387" y="1542.0" width="8.7" height="17.9"/><rect x="2409" y="1542.0" width="8.7" height="19.7"/><rect x="2496" y="1542.0" width="8.7" height="5.0"/><rect x="2507" y="1542.0" width="8.7" height="7.8"/><rect x="2518" y="1542.0" width="8.7" height="10.8"/><rect x="2529" y="1542.0" width="8.7" height="13.9"/><rect x="2551" y="1542.0" width="8.7" height="10.8"/><rect x="2562" y="1542.0" width="8.7" height="13.9"/><rect x="2573" y="1542.0" width="8.7" height="15.9"/><rect x="2584" y="1542.0" width="8.7" height="16.9"/><rect x="2837" y="1542.0" width="8.7" height="6.8"/><rect x="2848" y="1542.0" width="8.7" height="10.8"/></g>
<g fill="#ffcdd2"><rect x="93" y="1542.0" width="8.7" height="21.7"/><rect x="104" y="1542.0" width="8.7" height="20.7"/><rect x="115" y="1542.0" width="8.7" height="16.7"/><rect x="126" y="1542.0" width="8.7" height="6.8"/><rect x="137" y="1542.0" width="8.7" height="3.7"/><rect x="554" y="1542.0" width="8.7" height="14.9"/><rect x="565" y="1542.0" width="8.7" height="8.8"/><rect x="620" y="1542.0" width="8.7" height="16.9"/><rect x="631" y="1542.0" width="8.7" height="16.9"/><rect x="675" y="1542.0" width="8.7" height="27.8"/><rect x="685" y="1542.0" width="8.7" height="22.8"/><rect x="696" y="1542.0" width="8.7" height="20.7"/><rect x="707" y="1542.0" width="8.7" height="19.7"/><rect x="729" y="1542.0" width="8.7" height="19.7"/><rect x="740" y="1542.0" width="8.7" height="16.9"/><rect x="751" y="1542.0" width="8.7" height="12.9"/><rect x="762" y="1542.0" width="8.7" height="5.7"/><rect x="839" y="1542.0" width="8.7" height="6.8"/><rect x="916" y="1542.0" width="8.7" height="15.9"/><rect x="927" y="1542.0" width="8.7" height="9.8"/><rect x="938" y="1542.0" width="8.7" height="7.8"/><rect x="960" y="1542.0" width="8.7" height="7.8"/><rect x="971" y="1542.0" width="8.7" height="5.0"/><rect x="982" y="1542.0" width="8.7" height="1.9"/><rect x="1366" y="1542.0" width="8.7" height="92.1"/><rect x="1377" y="1542.0" width="8.7" height="76.1"/><rect x="1388" y="1542.0" width="8.7" height="71.0"/><rect x="1399" y="1542.0" width="8.7" height="62.9"/><rect x="1410" y="1542.0" width="8.7" height="40.0"/><rect x="1421" y="1542.0" width="8.7" height="19.7"/><rect x="1432" y="1542.0" width="8.7" height="8.8"/><rect x="1443" y="1542.0" width="8.7" height="3.0"/><rect x="1575" y="1542.0" width="8.7" height="33.7"/><rect x="1585" y="1542.0" width="8.7" height="27.8"/><rect x="1596" y="1542.0" width="8.7" height="26.8"/><rect x="1618" y="1542.0" width="8.7" height="33.7"/><rect x="1640" y="1542.0" width="8.7" height="38.0"/><rect x="1684" y="1542.0" width="8.7" height="44.9"/><rect x="1695" y="1542.0" width="8.7" height="36.0"/><rect x="1706" y="1542.0" width="8.7" height="29.9"/><rect x="1717" y="1542.0" width="8.7" height="28.9"/><rect x="1728" y="1542.0" width="8.7" height="21.7"/><rect x="1739" y="1542.0" width="8.7" height="17.9"/><rect x="1750" y="1542.0" width="8.7" height="11.8"/><rect x="1937" y="1542.0" width="8.7" height="9.8"/><rect x="1970" y="1542.0" width="8.7" height="19.0"/><rect x="1981" y="1542.0" width="8.7" height="13.9"/><rect x="1992" y="1542.0" width="8.7" height="8.8"/><rect x="2003" y="1542.0" width="8.7" height="7.8"/><rect x="2145" y="1542.0" width="8.7" height="38.0"/><rect x="2156" y="1542.0" width="8.7" height="38.0"/><rect x="2200" y="1542.0" width="8.7" height="42.8"/><rect x="2211" y="1542.0" width="8.7" height="36.0"/><rect x="2222" y="1542.0" width="8.7" height="26.1"/><rect x="2233" y="1542.0" width="8.7" height="21.7"/><rect x="2244" y="1542.0" width="8.7" height="20.7"/><rect x="2255" y="1542.0" width="8.7" height="15.9"/><rect x="2266" y="1542.0" width="8.7" height="7.8"/><rect x="2398" y="1542.0" width="8.7" height="16.9"/><rect x="2420" y="1542.0" width="8.7" height="9.8"/><rect x="2431" y="1542.0" width="8.7" height="5.7"/><rect x="2540" y="1542.0" width="8.7" height="9.8"/><rect x="2595" y="1542.0" width="8.7" height="7.8"/></g>
<line x1="20" y1="1543" x2="3086" y2="1543" stroke="#787b86" stroke-opacity="0.6" stroke-width="2" stroke-dasharray="10 12"/>
<polyline points="20.0,1588.9 30.7,1589.7 41.6,1590.7 52.5,1592.7 63.7,1597.3 74.6,1603.6 85.5,1610.5 96.4,1616.1 107.6,1620.6 118.5,1623.9 129.5,1625.2 140.4,1625.2 151.3,1625.0 162.5,1624.4 173.4,1623.7 184.3,1621.9 195.2,1619.9 206.4,1616.3 217.3,1612.5 228.3,1607.4 239.2,1601.1 250.3,1592.7 261.3,1582.5 272.2,1570.6 283.1,1558.9 294.3,1547.7 305.2,1538.1 316.1,1530.0 327.0,1524.6 338.2,1519.6 349.1,1516.5 360.1,1514.0 371.0,1513.5 382.2,1515.2 393.1,1517.8 404.0,1519.6 414.9,1519.6 425.8,1517.0 436.8,1510.7 447.9,1503.8 458.9,1497.5 469.8,1492.4 480.7,1488.6 491.9,1487.3 502.8,1486.8 513.7,1487.3 524.6,1488.6 535.8,1489.8 546.7,1491.9 557.7,1493.7 568.6,1495.4 579.7,1497.5 590.7,1500.0 601.6,1502.5 612.5,1506.3 623.7,1510.2 634.6,1514.0 645.5,1518.3 656.0,1524.1 667.2,1531.0 678.1,1538.1 689.0,1543.7 699.9,1548.8 711.1,1553.3 722.0,1558.9 733.0,1563.0 743.9,1566.0 754.8,1568.1 766.0,1569.1 776.9,1568.6 787.8,1567.3 798.7,1566.5 809.9,1567.3 820.8,1568.6 831.7,1569.8 842.7,1571.1 853.8,1573.1 864.8,1575.4 875.7,1578.2 886.6,1581.8 897.8,1585.6 908.7,1590.2 919.6,1593.5 930.5,1595.5 941.5,1597.0 952.6,1598.8 963.6,1600.1 974.5,1600.8 985.4,1601.1 996.6,1601.1 1007.5,1601.6 1018.4,1601.6 1029.3,1600.3 1040.5,1598.8 1051.4,1597.0 1062.3,1593.5 1073.3,1589.4 1084.2,1583.8 1095.4,1575.4 1106.3,1561.7 1117.2,1541.9 1128.1,1514.0 1139.3,1479.7 1150.2,1449.2 1336.2,1373.0 1488.6,1398.4 1564.8,1487.3 1588.9,1508.1 1600.3,1515.7 1611.5,1524.1 1622.4,1533.0 1633.3,1541.4 1644.3,1550.8 1655.4,1561.0 1666.3,1572.4 1677.3,1583.8 1688.2,1594.5 1699.4,1602.3 1710.3,1610.0 1721.2,1616.1 1732.1,1621.4 1743.3,1625.2 1754.2,1628.3 1765.1,1627.7 1776.1,1625.7 1787.0,1621.9 1798.2,1614.3 1809.1,1604.9 1820.0,1594.0 1830.9,1585.1 1842.1,1577.5 1853.0,1572.4 1863.9,1566.0 1874.9,1561.0 1886.0,1555.9 1897.0,1552.6 1907.9,1550.8 1918.9,1551.6 1929.8,1553.3 1941.0,1555.9 1951.9,1560.4 1962.8,1564.8 1973.7,1568.1 1984.6,1571.1 1995.8,1572.9 2006.7,1574.4 2017.7,1572.4 2028.6,1566.8 2039.7,1560.2 2050.7,1552.6 2061.6,1546.5 2072.5,1538.9 2083.4,1534.8 2094.6,1531.2 2105.5,1530.5 2116.4,1536.8 2127.4,1547.7 2138.5,1558.9 2149.5,1568.6 2160.4,1577.5 2171.3,1587.1 2182.2,1597.8 2193.4,1608.4 2204.3,1618.6 2215.2,1626.2 2226.2,1632.6 2237.3,1637.9 2248.3,1642.7 2259.2,1646.0 2270.1,1647.8 2281.0,1647.8 2292.2,1645.3 2303.1,1642.2 2314.0,1638.9 2325.0,1635.9 2336.1,1634.6 2347.0,1633.8 2358.0,1633.3 2368.9,1632.1 2380.1,1633.8 2391.0,1637.9 2401.9,1641.7 2412.8,1646.0 2423.7,1647.8 2434.9,1649.1 2445.8,1649.1 2456.8,1646.5 2467.6,1644.3 2478.5,1642.2 2489.7,1641.7 2500.6,1642.7 2511.6,1644.3 2522.5,1646.8 2533.7,1649.3 2544.6,1651.6 2555.5,1653.7 2566.4,1657.0 2577.6,1660.5 2588.5,1663.8 2599.4,1665.1 2610.3,1663.8 2621.5,1661.3 2632.4,1656.7 2643.4,1651.9 2654.3,1646.5 2665.5,1641.0 2676.4,1635.9 2687.3,1632.8 2698.2,1628.3 2709.4,1623.7 2720.3,1618.6 2731.2,1614.8 2742.2,1611.7 2753.3,1610.0 2764.3,1608.4 2775.2,1605.9 2786.1,1602.3 2797.3,1599.0 2808.2,1596.5 2819.1,1594.7 2830.0,1594.0 2841.2,1595.2 2852.1,1597.8" fill="none" stroke="#f23645" stroke-width="2.2" stroke-linejoin="round"/>
<polyline points="20.0,1591.4 30.7,1594.0 41.6,1595.7 52.5,1600.3 63.7,1616.8 74.6,1627.7 85.5,1638.9 96.4,1635.9 107.6,1639.2 118.5,1638.4 129.5,1630.8 140.4,1627.5 151.3,1623.2 162.5,1621.1 173.4,1618.9 184.3,1613.8 195.2,1609.7 206.4,1601.1 217.3,1596.0 228.3,1587.6 239.2,1574.9 250.3,1560.4 261.3,1543.2 272.2,1525.4 283.1,1512.2 294.3,1501.3 305.2,1494.9 316.1,1492.4 327.0,1493.7 338.2,1497.5 349.1,1501.3 360.1,1506.3 371.0,1513.2 382.2,1521.6 393.1,1526.2 404.0,1531.2 414.9,1517.8 425.8,1505.1 436.8,1484.8 447.9,1477.1 458.9,1472.1 469.8,1469.5 480.7,1472.1 491.9,1477.1 502.8,1482.2 513.7,1487.3 524.6,1489.8 535.8,1493.7 546.7,1497.5 557.7,1500.0 568.6,1501.3 579.7,1506.3 590.7,1513.2 601.6,1517.3 612.5,1522.1 623.7,1524.9 634.6,1528.7 645.5,1534.3 656.0,1547.0 667.2,1556.4 678.1,1563.0 689.0,1565.5 699.9,1566.5 711.1,1569.8 722.0,1578.0 733.0,1580.8 743.9,1581.3 754.8,1579.5 766.0,1573.1 776.9,1566.5 787.8,1561.7 798.7,1563.0 809.9,1568.1 820.8,1573.1 831.7,1575.7 842.7,1575.7 853.8,1581.3 864.8,1584.3 875.7,1588.4 886.6,1595.2 897.8,1601.1 908.7,1610.0 919.6,1607.4 930.5,1602.9 941.5,1602.9 952.6,1605.9 963.6,1605.9 974.5,1603.6 985.4,1601.6 996.6,1599.8 1007.5,1604.6 1018.4,1600.8 1029.3,1595.2 1040.5,1592.2 1051.4,1589.7 1062.3,1579.5 1073.3,1573.7 1084.2,1561.7 1095.4,1538.1 1106.3,1508.1 1117.2,1461.9 1128.1,1423.8 1139.3,1373.0 1336.2,1347.6 1463.2,1373.0 1514.0,1449.2 1534.5,1494.9 1544.4,1508.1 1556.6,1522.9 1567.6,1539.9 1578.5,1534.3 1589.4,1534.8 1600.3,1539.9 1611.5,1555.4 1622.4,1562.2 1633.3,1575.7 1644.3,1586.3 1655.4,1602.3 1666.3,1617.6 1677.3,1630.3 1688.2,1637.9 1699.4,1636.6 1710.3,1637.9 1721.2,1643.0 1732.1,1642.2 1743.3,1642.2 1754.2,1637.9 1765.1,1625.2 1776.1,1616.3 1787.0,1604.1 1798.2,1585.1 1809.1,1568.1 1820.0,1552.6 1830.9,1548.3 1842.1,1550.3 1853.0,1549.5 1863.9,1541.9 1874.9,1537.3 1886.0,1537.6 1897.0,1538.6 1907.9,1542.7 1918.9,1552.6 1929.8,1561.0 1941.0,1563.5 1951.9,1576.2 1962.8,1581.3 1973.7,1585.1 1984.6,1583.3 1995.8,1580.0 2006.7,1580.8 2017.7,1561.0 2028.6,1540.6 2039.7,1529.2 2050.7,1524.6 2061.6,1520.3 2072.5,1510.7 2083.4,1515.7 2094.6,1519.0 2105.5,1525.4 2116.4,1568.1 2127.4,1589.7 2138.5,1600.8 2149.5,1603.6 2160.4,1613.5 2171.3,1625.0 2182.2,1639.7 2193.4,1651.9 2204.3,1658.7 2215.2,1660.8 2226.2,1657.5 2237.3,1658.7 2248.3,1661.8 2259.2,1660.8 2270.1,1654.4 2281.0,1645.3 2292.2,1634.1 2303.1,1628.8 2314.0,1625.0 2325.0,1623.2 2336.1,1630.0 2347.0,1630.8 2358.0,1630.3 2368.9,1629.0 2380.1,1641.0 2391.0,1653.7 2401.9,1657.0 2412.8,1663.8 2423.7,1656.7 2434.9,1653.1 2445.8,1648.6 2456.8,1635.9 2467.6,1634.1 2478.5,1634.6 2489.7,1638.4 2500.6,1645.5 2511.6,1649.3 2522.5,1654.9 2533.7,1660.8 2544.6,1659.5 2555.5,1662.0 2566.4,1668.1 2577.6,1673.5 2588.5,1678.3 2599.4,1670.9 2610.3,1659.2 2621.5,1651.1 2632.4,1638.9 2643.4,1630.8 2654.3,1623.7 2665.5,1618.1 2676.4,1615.0 2687.3,1619.4 2698.2,1610.5 2709.4,1602.3 2720.3,1597.8 2731.2,1599.8 2742.2,1601.1 2753.3,1602.9 2764.3,1601.6 2775.2,1593.5 2786.1,1587.6 2797.3,1585.1 2808.2,1586.3 2819.1,1587.6 2830.0,1593.5 2841.2,1599.8 2852.1,1607.2" fill="none" stroke="#2962ff" stroke-width="2.2" stroke-linejoin="round"/>
</g>
<text x="3105" y="212.0" font-size="24" fill="#131722" letter-spacing="1.45" font-weight="normal">0.5000</text>
<text x="3105" y="282.0" font-size="24" fill="#131722" letter-spacing="1.45" font-weight="normal">0.4600</text>
<text x="3105" y="358.1" font-size="24" fill="#131722" letter-spacing="1.45" font-weight="normal">0.4200</text>
<text x="3105" y="442.8" font-size="24" fill="#131722" letter-spacing="1.45" font-weight="normal">0.3800</text>
<text x="3105" y="535.4" font-size="24" fill="#131722" letter-spacing="1.45" font-weight="normal">0.3400</text>
<text x="3105" y="698.6" font-size="24" fill="#131722" letter-spacing="1.45" font-weight="normal">0.2800</text>
<text x="3105" y="828.3" font-size="24" fill="#131722" letter-spacing="1.45" font-weight="normal">0.2400</text>
<text x="3105" y="1046.8" font-size="24" fill="#131722" letter-spacing="1.45" font-weight="normal">0.1850</text>
<text x="3105" y="1118.1" font-size="24" fill="#131722" letter-spacing="1.45" font-weight="normal">0.1700</text>
<text x="3105" y="1179.7" font-size="24" fill="#131722" letter-spacing="1.45" font-weight="normal">0.1580</text>
<text x="3105" y="1239.5" font-size="24" fill="#131722" letter-spacing="1.45" font-weight="normal">0.1470</text>
<text x="3105" y="1327.0" font-size="24" fill="#131722" letter-spacing="1.45" font-weight="normal">80.00</text>
<text x="3105" y="1389.7" font-size="24" fill="#131722" letter-spacing="1.45" font-weight="normal">60.00</text>
<text x="3105" y="1551.0" font-size="24" fill="#131722" letter-spacing="1.45" font-weight="normal">0.0000</text>
<text x="3105" y="1683.7" font-size="24" fill="#131722" letter-spacing="1.45" font-weight="normal">−0.0200</text>
<path d="M3088 122.0H3194a4 4 0 0 1 4 4V148.8a4 4 0 0 1 -4 4H3088Z" fill="#000"/>
<text x="3105" y="145.4" font-size="24" fill="#fff" letter-spacing="1.45" font-weight="normal">0.5206</text>
<path d="M3088 153.6H3194a4 4 0 0 1 4 4V182.8a4 4 0 0 1 -4 4H3088Z" fill="#e3effd"/>
<text x="3105" y="178.2" font-size="24" fill="#131722" letter-spacing="1.45" font-weight="normal">0.5206</text>
<path d="M3088 236.4H3194a4 4 0 0 1 4 4V265.8a4 4 0 0 1 -4 4H3088Z" fill="#000"/>
<text x="3105" y="261.1" font-size="24" fill="#fff" letter-spacing="1.45" font-weight="normal">0.4716</text>
<path d="M3088 345.2H3194a4 4 0 0 1 4 4V374.6a4 4 0 0 1 -4 4H3088Z" fill="#000"/>
<text x="3105" y="369.9" font-size="24" fill="#fff" letter-spacing="1.45" font-weight="normal">0.4143</text>
<path d="M3088 591.0H3194a4 4 0 0 1 4 4V620.6a4 4 0 0 1 -4 4H3088Z" fill="#0000ff"/>
<text x="3105" y="615.8" font-size="24" fill="#fff" letter-spacing="1.45" font-weight="normal">0.3091</text>
<path d="M3088 709.3H3194a4 4 0 0 1 4 4V738.8a4 4 0 0 1 -4 4H3088Z" fill="#ff8000"/>
<text x="3105" y="734.0" font-size="24" fill="#fff" letter-spacing="1.45" font-weight="normal">0.2636</text>
<path d="M3088 742.8H3194a4 4 0 0 1 4 4V772.2a4 4 0 0 1 -4 4H3088Z" fill="#000"/>
<text x="3105" y="767.5" font-size="24" fill="#fff" letter-spacing="1.45" font-weight="normal">0.2579</text>
<path d="M3088 851.4H3194a4 4 0 0 1 4 4V881.0a4 4 0 0 1 -4 4H3088Z" fill="#000"/>
<text x="3105" y="876.2" font-size="24" fill="#fff" letter-spacing="1.45" font-weight="normal">0.2212</text>
<path d="M3088 956.2H3194a4 4 0 0 1 4 4V985.6a4 4 0 0 1 -4 4H3088Z" fill="#000"/>
<text x="3105" y="980.9" font-size="24" fill="#fff" letter-spacing="1.45" font-weight="normal">0.2001</text>
<path d="M3088 885H3215.6a4 4 0 0 1 4 4V942.8a4 4 0 0 1 -4 4H3088Z" fill="#000"/>
<text x="3105" y="909.5" font-size="24" fill="#fff" letter-spacing="1.45" font-weight="normal">0.2177</text>
<text x="3105" y="937.8" font-size="24" fill="#c9cbd1" letter-spacing="1.2" font-weight="normal">18:52:50</text>
<path d="M3088 1144.0H3194a4 4 0 0 1 4 4V1173.6a4 4 0 0 1 -4 4H3088Z" fill="#e3effd"/>
<text x="3105" y="1168.8" font-size="24" fill="#131722" letter-spacing="1.45" font-weight="normal">0.1600</text>
<path d="M3088 1416.2H3178a4 4 0 0 1 4 4V1445.6a4 4 0 0 1 -4 4H3088Z" fill="#fdd835"/>
<text x="3105" y="1440.9" font-size="24" fill="#131722" letter-spacing="1.45" font-weight="normal">41.89</text>
<path d="M3088 1449.6H3178a4 4 0 0 1 4 4V1479.6a4 4 0 0 1 -4 4H3088Z" fill="#7e57c2"/>
<text x="3105" y="1474.6" font-size="24" fill="#fff" letter-spacing="1.45" font-weight="normal">33.05</text>
<path d="M3088 1535.2H3208a4 4 0 0 1 4 4V1564.6a4 4 0 0 1 -4 4H3088Z" fill="#ff5252"/>
<text x="3105" y="1559.9" font-size="24" fill="#fff" letter-spacing="1.45" font-weight="normal">−0.0014</text>
<path d="M3088 1581.0H3208a4 4 0 0 1 4 4V1611.0a4 4 0 0 1 -4 4H3088Z" fill="#f23645"/>
<text x="3105" y="1606.0" font-size="24" fill="#fff" letter-spacing="1.45" font-weight="normal">−0.0083</text>
<path d="M3088 1615.0H3208a4 4 0 0 1 4 4V1644.7a4 4 0 0 1 -4 4H3088Z" fill="#2962ff"/>
<text x="3105" y="1639.8" font-size="24" fill="#fff" letter-spacing="1.45" font-weight="normal">−0.0097</text>
<path d="M3086 153.6V186.8H3020a4 4 0 0 1 -4 -4V157.6a4 4 0 0 1 4 -4Z" fill="#e3effd"/>
<text x="3025.2" y="176.9" font-size="24" fill="#131722" textLength="52.6" lengthAdjust="spacing">High</text>
<path d="M3086 1144V1177.6H3028a4 4 0 0 1 -4 -4V1148a4 4 0 0 1 4 -4Z" fill="#e3effd"/>
<text x="3032" y="1167.9" font-size="24" fill="#131722" textLength="45" lengthAdjust="spacing">Low</text>
<rect x="3094" y="62.5" width="128" height="51" rx="9" fill="#fff" stroke="#ecedf0" stroke-width="1.5"/>
<text x="3113" y="96.4" font-size="24" fill="#131722" textLength="62.5" lengthAdjust="spacing">USDT</text>
<text x="338.6" y="1760.3" font-size="24" fill="#131722" text-anchor="middle" font-weight="normal" letter-spacing="0.6">May</text>
<text x="678.8" y="1760.3" font-size="24" fill="#131722" text-anchor="middle" font-weight="normal" letter-spacing="0.6">Jun</text>
<text x="1008.1" y="1760.3" font-size="24" fill="#131722" text-anchor="middle" font-weight="normal" letter-spacing="0.6">Jul</text>
<text x="1348.3" y="1760.3" font-size="24" fill="#131722" text-anchor="middle" font-weight="normal" letter-spacing="0.6">Aug</text>
<text x="1688.6" y="1760.3" font-size="24" fill="#131722" text-anchor="middle" font-weight="normal" letter-spacing="0.6">Sep</text>
<text x="2017.8" y="1760.3" font-size="24" fill="#131722" text-anchor="middle" font-weight="normal" letter-spacing="0.6">Oct</text>
<text x="2358.1" y="1760.3" font-size="24" fill="#131722" text-anchor="middle" font-weight="normal" letter-spacing="0.6">Nov</text>
<text x="2687.4" y="1760.3" font-size="24" fill="#131722" text-anchor="middle" font-weight="normal" letter-spacing="0.6">Dec</text>
<text x="3029.5" y="1760.3" font-size="24" fill="#131722" text-anchor="middle" font-weight="bold" letter-spacing="3.5">2026</text>
<text x="20.4" y="39.9" font-size="24" fill="#000" textLength="878" lengthAdjust="spacing">CryptoFXStreet created with TradingView.com, Dec 16, 2025 10:37 UTC+5:30</text>
<text x="36.6" y="93.8" font-size="24" fill="#131722" textLength="198.5" lengthAdjust="spacing">Stellar / TetherUS</text>
<text x="253.4" y="93.8" font-size="24" fill="#131722" textLength="30.5" lengthAdjust="spacing">1D</text>
<text x="303.9" y="93.8" font-size="24" fill="#131722" textLength="90" lengthAdjust="spacing">Binance</text>
<text x="407.3" y="93.8" font-size="24" fill="#131722" textLength="98.5" lengthAdjust="spacing">O0.2206</text>
<text x="519.2" y="93.8" font-size="24" fill="#131722" textLength="93.5" lengthAdjust="spacing">H0.2212</text>
<text x="626" y="93.8" font-size="24" fill="#131722" textLength="90.5" lengthAdjust="spacing">L0.2150</text>
<text x="729.8" y="93.8" font-size="24" fill="#131722" textLength="90.5" lengthAdjust="spacing">C0.2177</text>
<text x="835" y="93.8" font-size="24" fill="#131722" textLength="203" lengthAdjust="spacing">−0.0028 (−1.27%)</text>
<text x="244.6" y="96.3" font-size="34" fill="#131722" text-anchor="middle">·</text>
<text x="293.5" y="96.3" font-size="34" fill="#131722" text-anchor="middle">·</text>
<g fill="#131313">
<path d="M24 1822.1H47.8V1852H35.9V1833.7H24Z"/>
<circle cx="57.9" cy="1827.9" r="6"/>
<path d="M68.6 1822.1H83.8L72.4 1852H57.9Z"/>
<text x="98" y="1852" font-size="42" font-weight="bold" stroke="#131313" stroke-width="0.7" textLength="242" lengthAdjust="spacingAndGlyphs">TradingView</text>
</g>
</svg>
</body></html>
